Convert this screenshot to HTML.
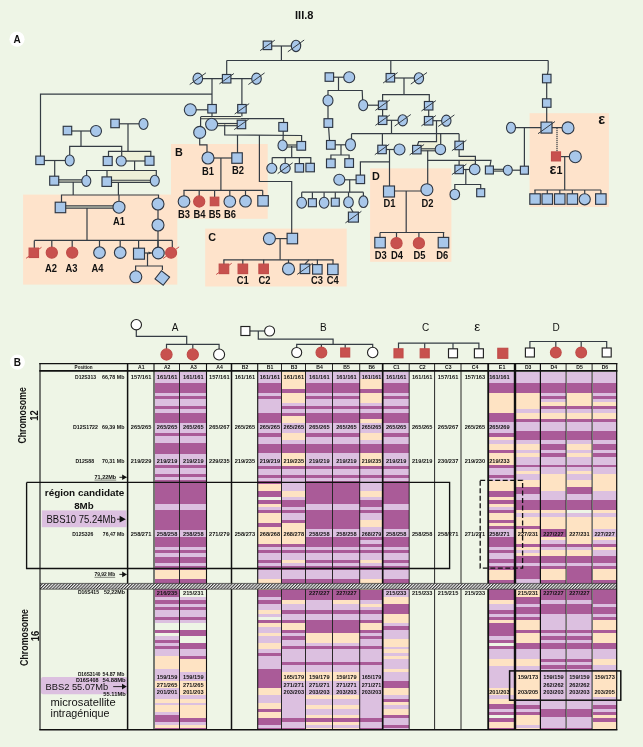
<!DOCTYPE html>
<html><head><meta charset="utf-8"><title>III.8</title>
<style>html,body{margin:0;padding:0;background:#eef5e6}svg{display:block;will-change:transform}</style></head>
<body>
<svg width="643" height="747" viewBox="0 0 643 747" font-family="'Liberation Sans', sans-serif" fill="#111">
<rect width="643" height="747" fill="#eef5e6"/>
<rect x="23.1" y="194.6" width="154.2" height="90.0" fill="#fee3cb"/>
<rect x="171.0" y="144.0" width="96.7" height="74.8" fill="#fee3cb"/>
<rect x="205.2" y="228.6" width="141.5" height="57.9" fill="#fee3cb"/>
<rect x="370.1" y="168.4" width="81.3" height="93.4" fill="#fee3cb"/>
<rect x="529.6" y="113.2" width="79.3" height="93.8" fill="#fee3cb"/>
<rect x="283.0" y="135.5" width="18.6" height="10.0" fill="#eef0d8"/>
<rect x="121.7" y="151.3" width="29.1" height="9.7" fill="#eef0d8"/>
<rect x="107.0" y="170.5" width="49.3" height="10.5" fill="#eef0d8"/>
<rect x="436.5" y="133.6" width="4.5" height="9.4" fill="#eef0d8"/>
<rect x="420.0" y="141.7" width="21.0" height="7.3" fill="#eef0d8"/>
<rect x="459.4" y="156.4" width="16.0" height="7.6" fill="#eef0d8"/>
<text x="304.2" y="19.0" font-size="11" font-weight="bold" text-anchor="middle" >III.8</text>
<circle cx="17" cy="39.2" r="7.6" fill="#fff"/>
<text x="17.0" y="43.0" font-size="10" font-weight="bold" text-anchor="middle" >A</text>
<circle cx="17.4" cy="362.1" r="7.6" fill="#fff"/>
<text x="17.4" y="366.0" font-size="10" font-weight="bold" text-anchor="middle" >B</text>
<line x1="267.5" y1="46.0" x2="296.0" y2="46.0" stroke="#353c44" stroke-width="1.2"/>
<polyline points="281.4,46.0 281.4,60.5" fill="none" stroke="#353c44" stroke-width="1.2"/>
<line x1="226.7" y1="60.5" x2="548.2" y2="60.5" stroke="#353c44" stroke-width="1.2"/>
<polyline points="226.7,60.5 226.7,78.7" fill="none" stroke="#353c44" stroke-width="1.2"/>
<line x1="197.8" y1="78.7" x2="256.5" y2="78.7" stroke="#353c44" stroke-width="1.2"/>
<polyline points="212.0,78.7 212.0,108.8" fill="none" stroke="#353c44" stroke-width="1.2"/>
<polyline points="241.9,78.7 241.9,108.8" fill="none" stroke="#353c44" stroke-width="1.2"/>
<polyline points="212.0,94.1 40.5,94.1 40.5,160.3" fill="none" stroke="#353c44" stroke-width="1.2"/>
<line x1="190.3" y1="109.8" x2="212.0" y2="109.8" stroke="#353c44" stroke-width="1.2"/>
<polyline points="212.0,108.8 212.0,116.5" fill="none" stroke="#353c44" stroke-width="1.2"/>
<polyline points="241.9,108.8 241.9,116.5" fill="none" stroke="#353c44" stroke-width="1.2"/>
<rect x="200.6" y="116.5" width="40.3" height="2.2" fill="#eef0d8"/>
<line x1="200.6" y1="116.5" x2="240.9" y2="116.5" stroke="#353c44" stroke-width="1.15"/>
<line x1="200.6" y1="118.7" x2="240.9" y2="118.7" stroke="#353c44" stroke-width="1.15"/>
<polyline points="200.6,117.0 200.6,127.0" fill="none" stroke="#353c44" stroke-width="1.2"/>
<polyline points="240.9,118.7 283.6,118.7 283.6,122.0" fill="none" stroke="#353c44" stroke-width="1.2"/>
<rect x="211.6" y="123.5" width="29.8" height="2.2" fill="#eef0d8"/>
<line x1="211.6" y1="123.5" x2="241.4" y2="123.5" stroke="#353c44" stroke-width="1.15"/>
<line x1="211.6" y1="125.7" x2="241.4" y2="125.7" stroke="#353c44" stroke-width="1.15"/>
<polyline points="224.7,124.4 224.7,135.0 301.6,135.5 301.6,141.0" fill="none" stroke="#353c44" stroke-width="1.2"/>
<polyline points="199.7,138.0 199.7,144.8 207.0,144.8 207.0,152.0" fill="none" stroke="#353c44" stroke-width="1.2"/>
<polyline points="237.5,135.0 237.5,153.0" fill="none" stroke="#353c44" stroke-width="1.2"/>
<line x1="208.0" y1="158.0" x2="237.0" y2="158.0" stroke="#353c44" stroke-width="1.2"/>
<polyline points="220.9,158.0 220.9,190.3" fill="none" stroke="#353c44" stroke-width="1.2"/>
<line x1="183.5" y1="190.3" x2="262.7" y2="190.3" stroke="#353c44" stroke-width="1.2"/>
<polyline points="184.0,190.3 184.0,197.0" fill="none" stroke="#353c44" stroke-width="1.2"/>
<polyline points="199.2,190.3 199.2,197.0" fill="none" stroke="#353c44" stroke-width="1.2"/>
<polyline points="214.6,190.3 214.6,197.0" fill="none" stroke="#353c44" stroke-width="1.2"/>
<polyline points="229.8,190.3 229.8,197.0" fill="none" stroke="#353c44" stroke-width="1.2"/>
<polyline points="245.5,190.3 245.5,197.0" fill="none" stroke="#353c44" stroke-width="1.2"/>
<polyline points="262.7,190.3 262.7,197.0" fill="none" stroke="#353c44" stroke-width="1.2"/>
<polyline points="259.4,135.0 259.4,181.5 291.7,181.5 291.7,233.5" fill="none" stroke="#353c44" stroke-width="1.2"/>
<line x1="269.4" y1="238.6" x2="292.3" y2="238.6" stroke="#353c44" stroke-width="1.2"/>
<polyline points="280.1,238.6 280.1,259.8" fill="none" stroke="#353c44" stroke-width="1.2"/>
<line x1="223.4" y1="259.8" x2="333.5" y2="259.8" stroke="#353c44" stroke-width="1.2"/>
<polyline points="223.9,259.8 223.9,265.0" fill="none" stroke="#353c44" stroke-width="1.2"/>
<polyline points="242.8,259.8 242.8,265.0" fill="none" stroke="#353c44" stroke-width="1.2"/>
<polyline points="263.7,259.8 263.7,265.0" fill="none" stroke="#353c44" stroke-width="1.2"/>
<polyline points="288.5,259.8 288.5,265.0" fill="none" stroke="#353c44" stroke-width="1.2"/>
<polyline points="317.4,259.8 317.4,265.0" fill="none" stroke="#353c44" stroke-width="1.2"/>
<polyline points="333.0,259.8 333.0,265.0" fill="none" stroke="#353c44" stroke-width="1.2"/>
<polyline points="309.0,259.8 305.0,264.0" fill="none" stroke="#353c44" stroke-width="1.2"/>
<polyline points="283.2,126.8 283.2,135.5 283.0,141.0" fill="none" stroke="#353c44" stroke-width="1.2"/>
<rect x="282.6" y="145.0" width="18.7" height="2.0" fill="#eef0d8"/>
<line x1="282.6" y1="145.0" x2="301.3" y2="145.0" stroke="#353c44" stroke-width="1.15"/>
<line x1="282.6" y1="147.0" x2="301.3" y2="147.0" stroke="#353c44" stroke-width="1.15"/>
<polyline points="291.7,146.0 291.7,157.6" fill="none" stroke="#353c44" stroke-width="1.2"/>
<line x1="272.2" y1="157.6" x2="311.2" y2="157.6" stroke="#353c44" stroke-width="1.2"/>
<polyline points="272.2,157.6 272.2,164.0" fill="none" stroke="#353c44" stroke-width="1.2"/>
<polyline points="285.2,157.6 285.2,164.0" fill="none" stroke="#353c44" stroke-width="1.2"/>
<polyline points="299.4,157.6 299.4,164.0" fill="none" stroke="#353c44" stroke-width="1.2"/>
<polyline points="310.8,157.6 310.8,164.0" fill="none" stroke="#353c44" stroke-width="1.2"/>
<line x1="67.4" y1="131.0" x2="96.0" y2="131.0" stroke="#353c44" stroke-width="1.2"/>
<polyline points="81.0,131.0 81.0,146.4" fill="none" stroke="#353c44" stroke-width="1.2"/>
<polyline points="69.7,156.0 69.7,146.4 121.7,146.4 121.7,156.0" fill="none" stroke="#353c44" stroke-width="1.2"/>
<line x1="115.0" y1="123.8" x2="143.5" y2="123.8" stroke="#353c44" stroke-width="1.2"/>
<polyline points="128.0,124.0 128.0,151.3" fill="none" stroke="#353c44" stroke-width="1.2"/>
<polyline points="108.5,157.0 108.5,151.3 150.8,151.3 150.8,157.0" fill="none" stroke="#353c44" stroke-width="1.2"/>
<line x1="40.0" y1="160.5" x2="69.7" y2="160.5" stroke="#353c44" stroke-width="1.2"/>
<polyline points="54.7,160.5 54.7,177.0" fill="none" stroke="#353c44" stroke-width="1.2"/>
<line x1="121.2" y1="161.0" x2="149.5" y2="161.0" stroke="#353c44" stroke-width="1.2"/>
<polyline points="134.6,161.0 134.6,170.5" fill="none" stroke="#353c44" stroke-width="1.2"/>
<polyline points="86.6,176.0 86.6,170.5 156.3,170.5 156.3,176.0" fill="none" stroke="#353c44" stroke-width="1.2"/>
<polyline points="107.0,170.5 107.0,177.0" fill="none" stroke="#353c44" stroke-width="1.2"/>
<rect x="54.2" y="179.9" width="32.1" height="2.2" fill="#eef0d8"/>
<line x1="54.2" y1="179.9" x2="86.3" y2="179.9" stroke="#353c44" stroke-width="1.15"/>
<line x1="54.2" y1="182.1" x2="86.3" y2="182.1" stroke="#353c44" stroke-width="1.15"/>
<polyline points="73.2,182.0 73.2,195.0" fill="none" stroke="#353c44" stroke-width="1.2"/>
<rect x="106.7" y="180.2" width="48.1" height="2.2" fill="#eef0d8"/>
<line x1="106.7" y1="180.2" x2="154.8" y2="180.2" stroke="#353c44" stroke-width="1.15"/>
<line x1="106.7" y1="182.4" x2="154.8" y2="182.4" stroke="#353c44" stroke-width="1.15"/>
<polyline points="118.4,182.5 118.4,195.0" fill="none" stroke="#353c44" stroke-width="1.2"/>
<polyline points="61.5,202.0 61.5,195.0 158.5,195.0 158.5,199.0" fill="none" stroke="#353c44" stroke-width="1.2"/>
<polyline points="119.0,195.0 119.0,201.0" fill="none" stroke="#353c44" stroke-width="1.2"/>
<rect x="60.5" y="205.9" width="58.5" height="2.2" fill="#eef0d8"/>
<line x1="60.5" y1="205.9" x2="119.0" y2="205.9" stroke="#353c44" stroke-width="1.15"/>
<line x1="60.5" y1="208.1" x2="119.0" y2="208.1" stroke="#353c44" stroke-width="1.15"/>
<polyline points="87.0,208.0 87.0,240.4" fill="none" stroke="#353c44" stroke-width="1.2"/>
<line x1="34.3" y1="240.4" x2="172.3" y2="240.4" stroke="#353c44" stroke-width="1.2"/>
<polyline points="34.3,240.4 34.3,248.0" fill="none" stroke="#353c44" stroke-width="1.2"/>
<polyline points="51.8,240.4 51.8,248.0" fill="none" stroke="#353c44" stroke-width="1.2"/>
<polyline points="72.2,240.4 72.2,248.0" fill="none" stroke="#353c44" stroke-width="1.2"/>
<polyline points="99.5,240.4 99.5,248.0" fill="none" stroke="#353c44" stroke-width="1.2"/>
<polyline points="120.2,240.4 120.2,248.0" fill="none" stroke="#353c44" stroke-width="1.2"/>
<polyline points="138.6,240.4 138.6,248.0" fill="none" stroke="#353c44" stroke-width="1.2"/>
<polyline points="158.0,240.4 158.0,248.0" fill="none" stroke="#353c44" stroke-width="1.2"/>
<polyline points="172.3,240.4 172.3,248.0" fill="none" stroke="#353c44" stroke-width="1.2"/>
<polyline points="158.0,204.0 158.0,252.7" fill="none" stroke="#353c44" stroke-width="1.2"/>
<line x1="138.6" y1="253.0" x2="158.0" y2="253.0" stroke="#353c44" stroke-width="1.2"/>
<polyline points="147.5,253.0 147.5,266.0" fill="none" stroke="#353c44" stroke-width="1.2"/>
<polyline points="135.6,271.0 135.6,266.0 162.4,266.0 162.4,270.0" fill="none" stroke="#353c44" stroke-width="1.2"/>
<polygon points="148.5,251.5 151.8,253 148.5,254.5" fill="#353c44"/>
<polyline points="390.8,60.5 390.8,74.0" fill="none" stroke="#353c44" stroke-width="1.2"/>
<line x1="390.3" y1="78.0" x2="418.9" y2="78.0" stroke="#353c44" stroke-width="1.2"/>
<polyline points="404.0,78.0 404.0,94.7" fill="none" stroke="#353c44" stroke-width="1.2"/>
<polyline points="382.6,101.0 382.6,94.7 429.3,94.7 429.3,101.0" fill="none" stroke="#353c44" stroke-width="1.2"/>
<line x1="329.3" y1="77.2" x2="349.2" y2="77.2" stroke="#353c44" stroke-width="1.2"/>
<polyline points="338.5,77.2 338.5,90.5" fill="none" stroke="#353c44" stroke-width="1.2"/>
<polyline points="328.0,95.0 328.0,90.5 362.2,90.5 362.6,100.0" fill="none" stroke="#353c44" stroke-width="1.2"/>
<line x1="363.2" y1="105.2" x2="382.6" y2="105.2" stroke="#353c44" stroke-width="1.2"/>
<polyline points="382.6,105.2 382.6,120.0" fill="none" stroke="#353c44" stroke-width="1.2"/>
<line x1="382.6" y1="120.3" x2="402.7" y2="120.3" stroke="#353c44" stroke-width="1.2"/>
<polyline points="428.7,105.7 428.7,120.7" fill="none" stroke="#353c44" stroke-width="1.2"/>
<line x1="428.7" y1="120.7" x2="446.3" y2="120.7" stroke="#353c44" stroke-width="1.2"/>
<polyline points="391.5,120.3 391.5,133.7" fill="none" stroke="#353c44" stroke-width="1.2"/>
<line x1="351.5" y1="133.7" x2="459.1" y2="133.7" stroke="#353c44" stroke-width="1.2"/>
<polyline points="351.5,133.7 351.5,139.0" fill="none" stroke="#353c44" stroke-width="1.2"/>
<polyline points="382.4,133.7 382.4,145.0" fill="none" stroke="#353c44" stroke-width="1.2"/>
<polyline points="440.7,133.7 440.7,144.0" fill="none" stroke="#353c44" stroke-width="1.2"/>
<polyline points="459.1,133.7 459.1,141.0" fill="none" stroke="#353c44" stroke-width="1.2"/>
<polyline points="436.5,120.7 436.5,141.7 418.7,141.7 417.5,145.0" fill="none" stroke="#353c44" stroke-width="1.2"/>
<polyline points="328.0,105.0 328.0,119.0 329.5,140.0" fill="none" stroke="#353c44" stroke-width="1.2"/>
<polyline points="330.9,149.0 330.9,140.0" fill="none" stroke="#353c44" stroke-width="1.2"/>
<line x1="330.9" y1="144.8" x2="350.5" y2="144.8" stroke="#353c44" stroke-width="1.2"/>
<polyline points="341.0,145.0 341.0,155.0" fill="none" stroke="#353c44" stroke-width="1.2"/>
<polyline points="330.9,159.0 330.9,155.0 349.1,155.0 349.1,159.0" fill="none" stroke="#353c44" stroke-width="1.2"/>
<line x1="382.0" y1="149.5" x2="399.5" y2="149.5" stroke="#353c44" stroke-width="1.2"/>
<polyline points="389.5,149.5 389.5,186.0" fill="none" stroke="#353c44" stroke-width="1.2"/>
<polyline points="389.5,161.8 360.4,161.8 360.4,175.0" fill="none" stroke="#353c44" stroke-width="1.2"/>
<line x1="339.3" y1="179.8" x2="360.4" y2="179.8" stroke="#353c44" stroke-width="1.2"/>
<polyline points="349.7,179.8 349.7,192.2" fill="none" stroke="#353c44" stroke-width="1.2"/>
<line x1="301.7" y1="192.2" x2="363.4" y2="192.2" stroke="#353c44" stroke-width="1.2"/>
<polyline points="301.7,192.2 301.7,198.0" fill="none" stroke="#353c44" stroke-width="1.2"/>
<polyline points="312.4,192.2 312.4,198.0" fill="none" stroke="#353c44" stroke-width="1.2"/>
<polyline points="324.1,192.2 324.1,198.0" fill="none" stroke="#353c44" stroke-width="1.2"/>
<polyline points="335.3,192.2 335.3,198.0" fill="none" stroke="#353c44" stroke-width="1.2"/>
<polyline points="348.5,192.2 348.5,198.0" fill="none" stroke="#353c44" stroke-width="1.2"/>
<polyline points="363.4,192.2 363.4,198.0" fill="none" stroke="#353c44" stroke-width="1.2"/>
<polyline points="350.0,207.0 353.0,212.0" fill="none" stroke="#353c44" stroke-width="1.2"/>
<rect x="416.8" y="148.8" width="23.6" height="2.0" fill="#eef0d8"/>
<line x1="416.8" y1="148.8" x2="440.4" y2="148.8" stroke="#353c44" stroke-width="1.15"/>
<line x1="416.8" y1="150.8" x2="440.4" y2="150.8" stroke="#353c44" stroke-width="1.15"/>
<polyline points="427.7,150.5 427.7,184.0" fill="none" stroke="#353c44" stroke-width="1.2"/>
<polyline points="427.7,160.3 491.0,160.3 490.0,166.0" fill="none" stroke="#353c44" stroke-width="1.2"/>
<polyline points="459.1,160.3 459.1,165.0" fill="none" stroke="#353c44" stroke-width="1.2"/>
<line x1="389.0" y1="191.0" x2="426.9" y2="191.0" stroke="#353c44" stroke-width="1.2"/>
<polyline points="406.2,191.0 406.2,232.5" fill="none" stroke="#353c44" stroke-width="1.2"/>
<line x1="380.0" y1="232.5" x2="444.3" y2="232.5" stroke="#353c44" stroke-width="1.2"/>
<polyline points="380.0,232.5 380.0,238.0" fill="none" stroke="#353c44" stroke-width="1.2"/>
<polyline points="396.5,232.5 396.5,238.0" fill="none" stroke="#353c44" stroke-width="1.2"/>
<polyline points="418.9,232.5 418.9,238.0" fill="none" stroke="#353c44" stroke-width="1.2"/>
<polyline points="443.5,232.5 443.5,238.0" fill="none" stroke="#353c44" stroke-width="1.2"/>
<polyline points="459.1,150.0 459.1,156.4 475.4,156.4 475.4,164.0" fill="none" stroke="#353c44" stroke-width="1.2"/>
<line x1="459.1" y1="169.5" x2="474.7" y2="169.5" stroke="#353c44" stroke-width="1.2"/>
<polyline points="465.8,169.5 465.8,184.5" fill="none" stroke="#353c44" stroke-width="1.2"/>
<polyline points="454.8,189.5 454.8,184.5 480.7,184.5 480.7,188.5" fill="none" stroke="#353c44" stroke-width="1.2"/>
<rect x="489.4" y="169.3" width="18.4" height="1.8" fill="#eef0d8"/>
<line x1="489.4" y1="169.3" x2="507.8" y2="169.3" stroke="#353c44" stroke-width="1.15"/>
<line x1="489.4" y1="171.1" x2="507.8" y2="171.1" stroke="#353c44" stroke-width="1.15"/>
<line x1="507.8" y1="170.2" x2="524.4" y2="170.2" stroke="#353c44" stroke-width="1.2"/>
<polyline points="548.2,60.5 548.2,70.0 546.7,78.6 546.7,127.6" fill="none" stroke="#353c44" stroke-width="1.2"/>
<line x1="511.0" y1="127.7" x2="568.0" y2="127.7" stroke="#353c44" stroke-width="1.2"/>
<polyline points="524.4,127.7 524.4,166.0" fill="none" stroke="#353c44" stroke-width="1.2"/>
<line x1="557" y1="128" x2="557" y2="152" stroke="#353c44" stroke-width="1.2" stroke-dasharray="1.2,0.8"/>
<line x1="556.0" y1="156.6" x2="575.3" y2="156.6" stroke="#353c44" stroke-width="1.2"/>
<polyline points="564.7,156.6 564.7,190.0" fill="none" stroke="#353c44" stroke-width="1.2"/>
<line x1="534.3" y1="190.0" x2="600.9" y2="190.0" stroke="#353c44" stroke-width="1.2"/>
<polyline points="535.0,190.0 535.0,194.0" fill="none" stroke="#353c44" stroke-width="1.2"/>
<polyline points="547.3,190.0 547.3,194.0" fill="none" stroke="#353c44" stroke-width="1.2"/>
<polyline points="559.8,190.0 559.8,194.0" fill="none" stroke="#353c44" stroke-width="1.2"/>
<polyline points="572.4,190.0 572.4,194.0" fill="none" stroke="#353c44" stroke-width="1.2"/>
<polyline points="584.7,190.0 584.7,194.0" fill="none" stroke="#353c44" stroke-width="1.2"/>
<polyline points="600.9,190.0 600.9,194.0" fill="none" stroke="#353c44" stroke-width="1.2"/>
<rect x="263.2" y="41.1" width="8.5" height="8.5" fill="#a8c7ea" stroke="#2e3642" stroke-width="1.15"/>
<line x1="260.2" y1="50.6" x2="274.8" y2="40.2" stroke="#353c44" stroke-width="1"/>
<ellipse cx="296.0" cy="45.9" rx="4.7" ry="5.7" fill="#a8c7ea" stroke="#2e3642" stroke-width="1.1"/>
<line x1="287.8" y1="51.8" x2="304.2" y2="40.0" stroke="#353c44" stroke-width="1"/>
<ellipse cx="197.8" cy="78.7" rx="4.8" ry="5.6" fill="#a8c7ea" stroke="#2e3642" stroke-width="1.1"/>
<line x1="189.7" y1="84.5" x2="205.9" y2="72.9" stroke="#353c44" stroke-width="1"/>
<rect x="222.4" y="74.5" width="8.5" height="8.5" fill="#a8c7ea" stroke="#2e3642" stroke-width="1.15"/>
<line x1="219.4" y1="83.9" x2="233.9" y2="73.5" stroke="#353c44" stroke-width="1"/>
<ellipse cx="256.5" cy="78.7" rx="4.8" ry="5.6" fill="#a8c7ea" stroke="#2e3642" stroke-width="1.1"/>
<line x1="248.4" y1="84.5" x2="264.6" y2="72.9" stroke="#353c44" stroke-width="1"/>
<ellipse cx="190.3" cy="109.8" rx="6.0" ry="6.0" fill="#a8c7ea" stroke="#2e3642" stroke-width="1.1"/>
<rect x="207.8" y="104.5" width="8.5" height="8.5" fill="#a8c7ea" stroke="#2e3642" stroke-width="1.15"/>
<rect x="237.7" y="104.5" width="8.5" height="8.5" fill="#a8c7ea" stroke="#2e3642" stroke-width="1.15"/>
<line x1="234.7" y1="114.0" x2="249.2" y2="103.6" stroke="#353c44" stroke-width="1"/>
<ellipse cx="211.6" cy="124.3" rx="6.0" ry="6.0" fill="#a8c7ea" stroke="#2e3642" stroke-width="1.1"/>
<rect x="237.2" y="120.2" width="8.5" height="8.5" fill="#a8c7ea" stroke="#2e3642" stroke-width="1.15"/>
<line x1="234.2" y1="129.6" x2="248.7" y2="119.2" stroke="#353c44" stroke-width="1"/>
<ellipse cx="199.7" cy="132.4" rx="6.0" ry="6.0" fill="#a8c7ea" stroke="#2e3642" stroke-width="1.1"/>
<ellipse cx="208.0" cy="158.0" rx="6.0" ry="6.0" fill="#a8c7ea" stroke="#2e3642" stroke-width="1.1"/>
<rect x="231.8" y="152.8" width="10.5" height="10.5" fill="#a8c7ea" stroke="#2e3642" stroke-width="1.15"/>
<ellipse cx="184.0" cy="201.5" rx="5.8" ry="5.8" fill="#a8c7ea" stroke="#2e3642" stroke-width="1.1"/>
<ellipse cx="199.2" cy="201.5" rx="5.6" ry="5.6" fill="#c8514e" stroke="#c04c49" stroke-width="1.1"/>
<rect x="210.3" y="197.2" width="8.5" height="8.5" fill="#c8514e" stroke="#c04c49" stroke-width="1.15"/>
<ellipse cx="229.8" cy="201.5" rx="5.8" ry="5.8" fill="#a8c7ea" stroke="#2e3642" stroke-width="1.1"/>
<ellipse cx="245.5" cy="201.2" rx="5.8" ry="5.8" fill="#a8c7ea" stroke="#2e3642" stroke-width="1.1"/>
<rect x="257.8" y="195.6" width="10.5" height="10.5" fill="#a8c7ea" stroke="#2e3642" stroke-width="1.15"/>
<ellipse cx="269.4" cy="238.6" rx="6.0" ry="6.0" fill="#a8c7ea" stroke="#2e3642" stroke-width="1.1"/>
<rect x="287.1" y="233.3" width="10.5" height="10.5" fill="#a8c7ea" stroke="#2e3642" stroke-width="1.15"/>
<rect x="219.2" y="264.1" width="9.5" height="9.5" fill="#c8514e" stroke="#c04c49" stroke-width="1.15"/>
<line x1="216.2" y1="274.5" x2="231.7" y2="263.3" stroke="#c8514e" stroke-width="1"/>
<rect x="238.1" y="264.1" width="9.5" height="9.5" fill="#c8514e" stroke="#c04c49" stroke-width="1.15"/>
<rect x="258.9" y="264.1" width="9.5" height="9.5" fill="#c8514e" stroke="#c04c49" stroke-width="1.15"/>
<ellipse cx="288.5" cy="268.9" rx="6.0" ry="6.0" fill="#a8c7ea" stroke="#2e3642" stroke-width="1.1"/>
<rect x="300.2" y="264.1" width="9.5" height="9.5" fill="#a8c7ea" stroke="#2e3642" stroke-width="1.15"/>
<line x1="297.2" y1="274.4" x2="312.8" y2="263.2" stroke="#353c44" stroke-width="1"/>
<rect x="312.6" y="264.6" width="9.5" height="9.5" fill="#a8c7ea" stroke="#2e3642" stroke-width="1.15"/>
<rect x="327.6" y="264.1" width="10.5" height="10.5" fill="#a8c7ea" stroke="#2e3642" stroke-width="1.15"/>
<rect x="278.8" y="122.5" width="8.7" height="8.7" fill="#a8c7ea" stroke="#2e3642" stroke-width="1.15"/>
<ellipse cx="282.6" cy="145.4" rx="4.6" ry="5.4" fill="#a8c7ea" stroke="#2e3642" stroke-width="1.1"/>
<rect x="296.9" y="141.5" width="8.7" height="8.7" fill="#a8c7ea" stroke="#2e3642" stroke-width="1.15"/>
<ellipse cx="271.8" cy="168.3" rx="5.0" ry="5.0" fill="#a8c7ea" stroke="#2e3642" stroke-width="1.1"/>
<ellipse cx="285.2" cy="168.2" rx="5.0" ry="5.0" fill="#a8c7ea" stroke="#2e3642" stroke-width="1.1"/>
<line x1="277.7" y1="173.6" x2="292.7" y2="162.8" stroke="#353c44" stroke-width="1"/>
<rect x="295.1" y="163.6" width="8.5" height="8.5" fill="#a8c7ea" stroke="#2e3642" stroke-width="1.15"/>
<rect x="305.9" y="163.3" width="8.5" height="8.5" fill="#a8c7ea" stroke="#2e3642" stroke-width="1.15"/>
<rect x="63.2" y="126.3" width="8.5" height="8.5" fill="#a8c7ea" stroke="#2e3642" stroke-width="1.15"/>
<ellipse cx="96.0" cy="131.0" rx="5.5" ry="5.5" fill="#a8c7ea" stroke="#2e3642" stroke-width="1.1"/>
<rect x="110.8" y="119.2" width="8.5" height="8.5" fill="#a8c7ea" stroke="#2e3642" stroke-width="1.15"/>
<ellipse cx="143.5" cy="124.0" rx="4.5" ry="5.5" fill="#a8c7ea" stroke="#2e3642" stroke-width="1.1"/>
<rect x="35.8" y="156.1" width="8.5" height="8.5" fill="#a8c7ea" stroke="#2e3642" stroke-width="1.15"/>
<ellipse cx="69.7" cy="160.5" rx="4.5" ry="5.5" fill="#a8c7ea" stroke="#2e3642" stroke-width="1.1"/>
<rect x="103.2" y="156.5" width="9.0" height="9.0" fill="#a8c7ea" stroke="#2e3642" stroke-width="1.15"/>
<ellipse cx="121.2" cy="161.0" rx="5.0" ry="5.0" fill="#a8c7ea" stroke="#2e3642" stroke-width="1.1"/>
<rect x="145.0" y="156.3" width="9.0" height="9.0" fill="#a8c7ea" stroke="#2e3642" stroke-width="1.15"/>
<rect x="49.7" y="176.2" width="9.0" height="9.0" fill="#a8c7ea" stroke="#2e3642" stroke-width="1.15"/>
<ellipse cx="86.3" cy="181.0" rx="4.5" ry="5.5" fill="#a8c7ea" stroke="#2e3642" stroke-width="1.1"/>
<rect x="102.0" y="176.9" width="9.5" height="9.5" fill="#a8c7ea" stroke="#2e3642" stroke-width="1.15"/>
<ellipse cx="154.8" cy="180.7" rx="4.5" ry="5.5" fill="#a8c7ea" stroke="#2e3642" stroke-width="1.1"/>
<rect x="55.2" y="202.2" width="10.5" height="10.5" fill="#a8c7ea" stroke="#2e3642" stroke-width="1.15"/>
<ellipse cx="119.0" cy="207.2" rx="6.0" ry="6.0" fill="#a8c7ea" stroke="#2e3642" stroke-width="1.1"/>
<ellipse cx="158.0" cy="204.0" rx="6.0" ry="6.0" fill="#a8c7ea" stroke="#2e3642" stroke-width="1.1"/>
<ellipse cx="158.0" cy="225.0" rx="6.0" ry="6.0" fill="#a8c7ea" stroke="#2e3642" stroke-width="1.1"/>
<rect x="29.1" y="248.1" width="9.4" height="9.4" fill="#c8514e" stroke="#c04c49" stroke-width="1.15"/>
<line x1="26.1" y1="258.3" x2="41.5" y2="247.3" stroke="#c8514e" stroke-width="1"/>
<ellipse cx="51.8" cy="252.6" rx="5.6" ry="5.6" fill="#c8514e" stroke="#c04c49" stroke-width="1.1"/>
<ellipse cx="72.2" cy="252.6" rx="5.6" ry="5.6" fill="#c8514e" stroke="#c04c49" stroke-width="1.1"/>
<ellipse cx="99.5" cy="252.6" rx="5.8" ry="5.8" fill="#a8c7ea" stroke="#2e3642" stroke-width="1.1"/>
<ellipse cx="120.2" cy="252.6" rx="5.8" ry="5.8" fill="#a8c7ea" stroke="#2e3642" stroke-width="1.1"/>
<rect x="133.5" y="248.2" width="11.0" height="11.0" fill="#a8c7ea" stroke="#2e3642" stroke-width="1.15"/>
<ellipse cx="158.3" cy="253.0" rx="5.9" ry="5.9" fill="#a8c7ea" stroke="#2e3642" stroke-width="1.1"/>
<ellipse cx="171.1" cy="252.7" rx="5.5" ry="5.5" fill="#c8514e" stroke="#c04c49" stroke-width="1.1"/>
<line x1="163.1" y1="258.5" x2="179.1" y2="246.9" stroke="#c8514e" stroke-width="1"/>
<ellipse cx="135.8" cy="276.8" rx="6.0" ry="6.0" fill="#a8c7ea" stroke="#2e3642" stroke-width="1.1"/>
<rect x="157.1" y="272.8" width="10.4" height="10.4" transform="rotate(-52 162.3 278.0)" fill="#a8c7ea" stroke="#2e3642" stroke-width="1.1"/>
<rect x="386.1" y="73.5" width="8.5" height="8.5" fill="#a8c7ea" stroke="#2e3642" stroke-width="1.15"/>
<line x1="383.1" y1="83.0" x2="397.6" y2="72.6" stroke="#353c44" stroke-width="1"/>
<ellipse cx="418.9" cy="78.3" rx="4.7" ry="5.6" fill="#a8c7ea" stroke="#2e3642" stroke-width="1.1"/>
<line x1="410.8" y1="84.1" x2="427.0" y2="72.5" stroke="#353c44" stroke-width="1"/>
<rect x="378.4" y="101.0" width="8.5" height="8.5" fill="#a8c7ea" stroke="#2e3642" stroke-width="1.15"/>
<line x1="375.4" y1="110.4" x2="389.9" y2="100.0" stroke="#353c44" stroke-width="1"/>
<rect x="424.4" y="101.5" width="8.5" height="8.5" fill="#a8c7ea" stroke="#2e3642" stroke-width="1.15"/>
<line x1="421.4" y1="111.0" x2="435.9" y2="100.6" stroke="#353c44" stroke-width="1"/>
<rect x="325.1" y="72.8" width="8.5" height="8.5" fill="#a8c7ea" stroke="#2e3642" stroke-width="1.15"/>
<ellipse cx="349.2" cy="77.3" rx="5.5" ry="5.5" fill="#a8c7ea" stroke="#2e3642" stroke-width="1.1"/>
<ellipse cx="328.0" cy="100.5" rx="5.0" ry="5.5" fill="#a8c7ea" stroke="#2e3642" stroke-width="1.1"/>
<ellipse cx="363.2" cy="105.2" rx="4.5" ry="5.5" fill="#a8c7ea" stroke="#2e3642" stroke-width="1.1"/>
<rect x="378.4" y="116.0" width="8.5" height="8.5" fill="#a8c7ea" stroke="#2e3642" stroke-width="1.15"/>
<line x1="375.4" y1="125.4" x2="389.9" y2="115.0" stroke="#353c44" stroke-width="1"/>
<ellipse cx="402.7" cy="120.3" rx="4.7" ry="5.6" fill="#a8c7ea" stroke="#2e3642" stroke-width="1.1"/>
<line x1="394.6" y1="126.1" x2="410.8" y2="114.5" stroke="#353c44" stroke-width="1"/>
<rect x="424.4" y="116.5" width="8.5" height="8.5" fill="#a8c7ea" stroke="#2e3642" stroke-width="1.15"/>
<line x1="421.4" y1="125.9" x2="435.9" y2="115.5" stroke="#353c44" stroke-width="1"/>
<ellipse cx="446.3" cy="120.7" rx="4.7" ry="5.6" fill="#a8c7ea" stroke="#2e3642" stroke-width="1.1"/>
<line x1="438.2" y1="126.5" x2="454.4" y2="114.9" stroke="#353c44" stroke-width="1"/>
<ellipse cx="350.5" cy="144.7" rx="5.0" ry="6.0" fill="#a8c7ea" stroke="#2e3642" stroke-width="1.1"/>
<rect x="377.8" y="145.2" width="8.5" height="8.5" fill="#a8c7ea" stroke="#2e3642" stroke-width="1.15"/>
<line x1="374.8" y1="154.7" x2="389.2" y2="144.3" stroke="#353c44" stroke-width="1"/>
<ellipse cx="399.5" cy="149.5" rx="5.5" ry="5.5" fill="#a8c7ea" stroke="#2e3642" stroke-width="1.1"/>
<rect x="412.6" y="145.4" width="8.5" height="8.5" fill="#a8c7ea" stroke="#2e3642" stroke-width="1.15"/>
<line x1="409.6" y1="154.9" x2="424.1" y2="144.5" stroke="#353c44" stroke-width="1"/>
<ellipse cx="440.4" cy="149.4" rx="5.2" ry="5.2" fill="#a8c7ea" stroke="#2e3642" stroke-width="1.1"/>
<rect x="454.9" y="141.2" width="8.5" height="8.5" fill="#a8c7ea" stroke="#2e3642" stroke-width="1.15"/>
<line x1="451.9" y1="150.7" x2="466.4" y2="140.3" stroke="#353c44" stroke-width="1"/>
<rect x="324.0" y="118.7" width="8.7" height="8.7" fill="#a8c7ea" stroke="#2e3642" stroke-width="1.15"/>
<rect x="326.5" y="140.5" width="8.7" height="8.7" fill="#a8c7ea" stroke="#2e3642" stroke-width="1.15"/>
<rect x="326.5" y="159.0" width="8.7" height="8.7" fill="#a8c7ea" stroke="#2e3642" stroke-width="1.15"/>
<rect x="344.8" y="158.7" width="8.7" height="8.7" fill="#a8c7ea" stroke="#2e3642" stroke-width="1.15"/>
<rect x="356.1" y="175.1" width="8.5" height="8.5" fill="#a8c7ea" stroke="#2e3642" stroke-width="1.15"/>
<ellipse cx="339.3" cy="179.8" rx="5.5" ry="5.5" fill="#a8c7ea" stroke="#2e3642" stroke-width="1.1"/>
<ellipse cx="301.7" cy="202.7" rx="4.8" ry="5.5" fill="#a8c7ea" stroke="#2e3642" stroke-width="1.1"/>
<rect x="308.4" y="198.7" width="8.0" height="8.0" fill="#a8c7ea" stroke="#2e3642" stroke-width="1.15"/>
<ellipse cx="324.1" cy="202.7" rx="4.8" ry="5.5" fill="#a8c7ea" stroke="#2e3642" stroke-width="1.1"/>
<rect x="331.3" y="198.2" width="8.0" height="8.0" fill="#a8c7ea" stroke="#2e3642" stroke-width="1.15"/>
<ellipse cx="348.5" cy="202.2" rx="4.8" ry="5.5" fill="#a8c7ea" stroke="#2e3642" stroke-width="1.1"/>
<ellipse cx="363.4" cy="201.7" rx="4.5" ry="5.8" fill="#a8c7ea" stroke="#2e3642" stroke-width="1.1"/>
<rect x="348.4" y="212.1" width="10.0" height="10.0" fill="#a8c7ea" stroke="#2e3642" stroke-width="1.15"/>
<line x1="345.4" y1="222.9" x2="361.4" y2="211.3" stroke="#353c44" stroke-width="1"/>
<rect x="383.5" y="186.0" width="11.0" height="11.0" fill="#a8c7ea" stroke="#2e3642" stroke-width="1.15"/>
<ellipse cx="426.9" cy="189.7" rx="6.0" ry="6.0" fill="#a8c7ea" stroke="#2e3642" stroke-width="1.1"/>
<rect x="374.8" y="237.4" width="10.5" height="10.5" fill="#a8c7ea" stroke="#2e3642" stroke-width="1.15"/>
<ellipse cx="396.5" cy="243.2" rx="5.6" ry="5.6" fill="#c8514e" stroke="#c04c49" stroke-width="1.1"/>
<ellipse cx="418.9" cy="243.2" rx="5.6" ry="5.6" fill="#c8514e" stroke="#c04c49" stroke-width="1.1"/>
<rect x="438.2" y="237.4" width="10.5" height="10.5" fill="#a8c7ea" stroke="#2e3642" stroke-width="1.15"/>
<ellipse cx="474.7" cy="169.4" rx="5.3" ry="5.3" fill="#a8c7ea" stroke="#2e3642" stroke-width="1.1"/>
<rect x="454.9" y="165.2" width="8.5" height="8.5" fill="#a8c7ea" stroke="#2e3642" stroke-width="1.15"/>
<line x1="451.9" y1="174.6" x2="466.4" y2="164.2" stroke="#353c44" stroke-width="1"/>
<ellipse cx="454.8" cy="194.4" rx="4.8" ry="5.2" fill="#a8c7ea" stroke="#2e3642" stroke-width="1.1"/>
<rect x="476.7" y="188.7" width="8.0" height="8.0" fill="#a8c7ea" stroke="#2e3642" stroke-width="1.15"/>
<rect x="485.4" y="166.0" width="8.0" height="8.0" fill="#a8c7ea" stroke="#2e3642" stroke-width="1.15"/>
<ellipse cx="507.8" cy="170.2" rx="4.5" ry="5.0" fill="#a8c7ea" stroke="#2e3642" stroke-width="1.1"/>
<rect x="520.4" y="166.2" width="8.0" height="8.0" fill="#a8c7ea" stroke="#2e3642" stroke-width="1.15"/>
<rect x="542.5" y="74.3" width="8.5" height="8.5" fill="#a8c7ea" stroke="#2e3642" stroke-width="1.15"/>
<rect x="542.5" y="98.8" width="8.5" height="8.5" fill="#a8c7ea" stroke="#2e3642" stroke-width="1.15"/>
<rect x="541.0" y="122.1" width="11.0" height="11.0" fill="#a8c7ea" stroke="#2e3642" stroke-width="1.15"/>
<line x1="538.0" y1="133.7" x2="555.0" y2="121.5" stroke="#353c44" stroke-width="1"/>
<ellipse cx="511.0" cy="127.7" rx="4.5" ry="5.5" fill="#a8c7ea" stroke="#2e3642" stroke-width="1.1"/>
<ellipse cx="568.0" cy="127.9" rx="6.0" ry="6.0" fill="#a8c7ea" stroke="#2e3642" stroke-width="1.1"/>
<rect x="551.5" y="151.9" width="9.0" height="9.0" fill="#c8514e" stroke="#c04c49" stroke-width="1.15"/>
<ellipse cx="575.3" cy="156.7" rx="6.0" ry="6.0" fill="#a8c7ea" stroke="#2e3642" stroke-width="1.1"/>
<rect x="529.8" y="193.8" width="10.5" height="10.5" fill="#a8c7ea" stroke="#2e3642" stroke-width="1.15"/>
<rect x="542.0" y="193.8" width="10.5" height="10.5" fill="#a8c7ea" stroke="#2e3642" stroke-width="1.15"/>
<rect x="554.5" y="193.8" width="10.5" height="10.5" fill="#a8c7ea" stroke="#2e3642" stroke-width="1.15"/>
<rect x="567.1" y="193.8" width="10.5" height="10.5" fill="#a8c7ea" stroke="#2e3642" stroke-width="1.15"/>
<rect x="595.6" y="193.8" width="10.5" height="10.5" fill="#a8c7ea" stroke="#2e3642" stroke-width="1.15"/>
<ellipse cx="584.7" cy="199.3" rx="5.6" ry="5.6" fill="#a8c7ea" stroke="#2e3642" stroke-width="1.1"/>
<text x="179.0" y="156.0" font-size="10.8" font-weight="bold" text-anchor="middle" >B</text>
<text x="208.0" y="175.3" font-size="10.8" font-weight="bold" text-anchor="middle" textLength="12" lengthAdjust="spacingAndGlyphs" >B1</text>
<text x="238.0" y="174.3" font-size="10.8" font-weight="bold" text-anchor="middle" textLength="12" lengthAdjust="spacingAndGlyphs" >B2</text>
<text x="184.0" y="218.0" font-size="10.8" font-weight="bold" text-anchor="middle" textLength="12" lengthAdjust="spacingAndGlyphs" >B3</text>
<text x="199.4" y="218.0" font-size="10.8" font-weight="bold" text-anchor="middle" textLength="12" lengthAdjust="spacingAndGlyphs" >B4</text>
<text x="214.8" y="218.0" font-size="10.8" font-weight="bold" text-anchor="middle" textLength="12" lengthAdjust="spacingAndGlyphs" >B5</text>
<text x="230.0" y="218.0" font-size="10.8" font-weight="bold" text-anchor="middle" textLength="12" lengthAdjust="spacingAndGlyphs" >B6</text>
<text x="119.0" y="225.0" font-size="10.8" font-weight="bold" text-anchor="middle" textLength="12" lengthAdjust="spacingAndGlyphs" >A1</text>
<text x="51.0" y="272.0" font-size="10.8" font-weight="bold" text-anchor="middle" textLength="12" lengthAdjust="spacingAndGlyphs" >A2</text>
<text x="71.4" y="272.0" font-size="10.8" font-weight="bold" text-anchor="middle" textLength="12" lengthAdjust="spacingAndGlyphs" >A3</text>
<text x="97.5" y="272.0" font-size="10.8" font-weight="bold" text-anchor="middle" textLength="12" lengthAdjust="spacingAndGlyphs" >A4</text>
<text x="212.2" y="240.5" font-size="10.8" font-weight="bold" text-anchor="middle" >C</text>
<text x="242.8" y="284.0" font-size="10.8" font-weight="bold" text-anchor="middle" textLength="12" lengthAdjust="spacingAndGlyphs" >C1</text>
<text x="264.4" y="284.0" font-size="10.8" font-weight="bold" text-anchor="middle" textLength="12" lengthAdjust="spacingAndGlyphs" >C2</text>
<text x="316.9" y="284.0" font-size="10.8" font-weight="bold" text-anchor="middle" textLength="12" lengthAdjust="spacingAndGlyphs" >C3</text>
<text x="332.8" y="284.0" font-size="10.8" font-weight="bold" text-anchor="middle" textLength="12" lengthAdjust="spacingAndGlyphs" >C4</text>
<text x="375.8" y="180.0" font-size="10.8" font-weight="bold" text-anchor="middle" >D</text>
<text x="389.5" y="206.6" font-size="10.8" font-weight="bold" text-anchor="middle" textLength="12" lengthAdjust="spacingAndGlyphs" >D1</text>
<text x="427.6" y="207.3" font-size="10.8" font-weight="bold" text-anchor="middle" textLength="12" lengthAdjust="spacingAndGlyphs" >D2</text>
<text x="380.8" y="259.0" font-size="10.8" font-weight="bold" text-anchor="middle" textLength="12" lengthAdjust="spacingAndGlyphs" >D3</text>
<text x="397.0" y="259.0" font-size="10.8" font-weight="bold" text-anchor="middle" textLength="12" lengthAdjust="spacingAndGlyphs" >D4</text>
<text x="419.4" y="259.0" font-size="10.8" font-weight="bold" text-anchor="middle" textLength="12" lengthAdjust="spacingAndGlyphs" >D5</text>
<text x="442.3" y="259.0" font-size="10.8" font-weight="bold" text-anchor="middle" textLength="12" lengthAdjust="spacingAndGlyphs" >D6</text>
<text x="601.6" y="123.5" font-size="14.5" font-weight="bold" text-anchor="middle">ε</text>
<text x="556" y="174" font-weight="bold" text-anchor="middle"><tspan font-size="14.5">ε</tspan><tspan font-size="10.8">1</tspan></text>
<polyline points="136.3,329.0 136.3,336.3 186.7,336.3 186.7,344.4" fill="none" stroke="#353c44" stroke-width="1.2"/>
<polyline points="166.5,349.0 166.5,344.4 219.1,344.4 219.1,349.0" fill="none" stroke="#353c44" stroke-width="1.2"/>
<polyline points="192.8,344.4 192.8,349.0" fill="none" stroke="#353c44" stroke-width="1.2"/>
<line x1="245.4" y1="331.0" x2="269.6" y2="331.0" stroke="#353c44" stroke-width="1.2"/>
<polyline points="258.3,331.0 258.3,339.1 333.1,339.1 333.1,344.4" fill="none" stroke="#353c44" stroke-width="1.2"/>
<polyline points="296.7,348.0 296.7,344.4 372.7,344.4 372.7,348.0" fill="none" stroke="#353c44" stroke-width="1.2"/>
<polyline points="321.4,344.4 321.4,348.0" fill="none" stroke="#353c44" stroke-width="1.2"/>
<polyline points="345.2,344.4 345.2,348.0" fill="none" stroke="#353c44" stroke-width="1.2"/>
<polyline points="398.5,349.0 398.5,343.2 478.9,343.2 478.9,349.0" fill="none" stroke="#353c44" stroke-width="1.2"/>
<polyline points="424.7,343.2 424.7,349.0" fill="none" stroke="#353c44" stroke-width="1.2"/>
<polyline points="453.0,343.2 453.0,349.0" fill="none" stroke="#353c44" stroke-width="1.2"/>
<polyline points="529.9,348.0 529.9,341.5 606.7,341.5 606.7,348.0" fill="none" stroke="#353c44" stroke-width="1.2"/>
<polyline points="555.8,341.5 555.8,348.0" fill="none" stroke="#353c44" stroke-width="1.2"/>
<polyline points="581.2,341.5 581.2,348.0" fill="none" stroke="#353c44" stroke-width="1.2"/>
<ellipse cx="136.3" cy="324.7" rx="5.2" ry="5.2" fill="#ffffff" stroke="#222" stroke-width="1.1"/>
<ellipse cx="166.5" cy="354.5" rx="5.6" ry="5.6" fill="#c8514e" stroke="#c04c49" stroke-width="1.1"/>
<ellipse cx="192.8" cy="354.5" rx="5.6" ry="5.6" fill="#c8514e" stroke="#c04c49" stroke-width="1.1"/>
<ellipse cx="219.1" cy="354.5" rx="5.5" ry="5.5" fill="#ffffff" stroke="#222" stroke-width="1.1"/>
<rect x="240.9" y="326.5" width="9.0" height="9.0" fill="#ffffff" stroke="#222" stroke-width="1.15"/>
<ellipse cx="269.6" cy="331.0" rx="5.0" ry="5.0" fill="#ffffff" stroke="#222" stroke-width="1.1"/>
<ellipse cx="296.7" cy="352.5" rx="5.0" ry="5.0" fill="#ffffff" stroke="#222" stroke-width="1.1"/>
<ellipse cx="321.4" cy="352.5" rx="5.4" ry="5.4" fill="#c8514e" stroke="#c04c49" stroke-width="1.1"/>
<rect x="340.7" y="348.0" width="9.0" height="9.0" fill="#c8514e" stroke="#c04c49" stroke-width="1.15"/>
<ellipse cx="372.7" cy="352.5" rx="5.2" ry="5.2" fill="#ffffff" stroke="#222" stroke-width="1.1"/>
<rect x="394.0" y="348.8" width="9.0" height="9.0" fill="#c8514e" stroke="#c04c49" stroke-width="1.15"/>
<rect x="420.2" y="348.8" width="9.0" height="9.0" fill="#c8514e" stroke="#c04c49" stroke-width="1.15"/>
<rect x="448.5" y="348.8" width="9.0" height="9.0" fill="#ffffff" stroke="#222" stroke-width="1.15"/>
<rect x="474.4" y="348.8" width="9.0" height="9.0" fill="#ffffff" stroke="#222" stroke-width="1.15"/>
<rect x="497.8" y="348.3" width="10.0" height="10.0" fill="#c8514e" stroke="#c04c49" stroke-width="1.15"/>
<rect x="525.4" y="348.0" width="9.0" height="9.0" fill="#ffffff" stroke="#222" stroke-width="1.15"/>
<ellipse cx="555.8" cy="352.5" rx="5.4" ry="5.4" fill="#c8514e" stroke="#c04c49" stroke-width="1.1"/>
<ellipse cx="581.2" cy="352.5" rx="5.4" ry="5.4" fill="#c8514e" stroke="#c04c49" stroke-width="1.1"/>
<rect x="602.2" y="348.0" width="9.0" height="9.0" fill="#ffffff" stroke="#222" stroke-width="1.15"/>
<text x="175.0" y="330.8" font-size="10" font-weight="normal" text-anchor="middle" >A</text>
<text x="323.4" y="330.8" font-size="10" font-weight="normal" text-anchor="middle" >B</text>
<text x="425.5" y="330.8" font-size="10" font-weight="normal" text-anchor="middle" >C</text>
<text x="477.3" y="330.8" font-size="13.5" font-weight="normal" text-anchor="middle" >ε</text>
<text x="556.2" y="330.8" font-size="10" font-weight="normal" text-anchor="middle" >D</text>
<g shape-rendering="crispEdges">
<rect x="154.6" y="371.50" width="24.7" height="11.65" fill="#dcc0e0"/>
<rect x="154.6" y="383.10" width="24.7" height="9.75" fill="#aa5b98"/>
<rect x="154.6" y="392.80" width="24.7" height="3.15" fill="#dcc0e0"/>
<rect x="154.6" y="395.90" width="24.7" height="3.15" fill="#aa5b98"/>
<rect x="154.6" y="399.00" width="24.7" height="7.25" fill="#dcc0e0"/>
<rect x="154.6" y="406.20" width="24.7" height="2.65" fill="#aa5b98"/>
<rect x="154.6" y="408.80" width="24.7" height="3.85" fill="#dcc0e0"/>
<rect x="154.6" y="412.60" width="24.7" height="10.35" fill="#aa5b98"/>
<rect x="154.6" y="422.90" width="24.7" height="10.25" fill="#dcc0e0"/>
<rect x="154.6" y="433.10" width="24.7" height="3.15" fill="#aa5b98"/>
<rect x="154.6" y="436.20" width="24.7" height="7.25" fill="#dcc0e0"/>
<rect x="154.6" y="443.40" width="24.7" height="10.35" fill="#aa5b98"/>
<rect x="154.6" y="453.70" width="24.7" height="11.55" fill="#dcc0e0"/>
<rect x="154.6" y="465.20" width="24.7" height="2.65" fill="#aa5b98"/>
<rect x="154.6" y="467.80" width="24.7" height="6.45" fill="#dcc0e0"/>
<rect x="154.6" y="474.20" width="24.7" height="2.65" fill="#aa5b98"/>
<rect x="154.6" y="476.80" width="24.7" height="2.85" fill="#dcc0e0"/>
<rect x="154.6" y="479.60" width="24.7" height="3.45" fill="#aa5b98"/>
<rect x="154.6" y="483.00" width="24.7" height="21.05" fill="#aa5b98"/>
<rect x="154.6" y="504.00" width="24.7" height="6.25" fill="#dcc0e0"/>
<rect x="154.6" y="510.20" width="24.7" height="19.65" fill="#aa5b98"/>
<rect x="154.6" y="529.80" width="24.7" height="7.05" fill="#dcc0e0"/>
<rect x="154.6" y="536.80" width="24.7" height="10.05" fill="#aa5b98"/>
<rect x="154.6" y="546.80" width="24.7" height="3.05" fill="#dcc0e0"/>
<rect x="154.6" y="549.80" width="24.7" height="3.15" fill="#aa5b98"/>
<rect x="154.6" y="552.90" width="24.7" height="3.75" fill="#dcc0e0"/>
<rect x="154.6" y="556.60" width="24.7" height="6.25" fill="#aa5b98"/>
<rect x="154.6" y="562.80" width="24.7" height="3.25" fill="#dcc0e0"/>
<rect x="154.6" y="566.00" width="24.7" height="3.55" fill="#aa5b98"/>
<rect x="154.6" y="569.50" width="24.7" height="9.75" fill="#fee3c3"/>
<rect x="154.6" y="579.20" width="24.7" height="10.85" fill="#aa5b98"/>
<rect x="154.6" y="590.00" width="24.7" height="6.85" fill="#aa5b98"/>
<rect x="154.6" y="596.80" width="24.7" height="3.45" fill="#dcc0e0"/>
<rect x="154.6" y="600.20" width="24.7" height="3.55" fill="#aa5b98"/>
<rect x="154.6" y="603.70" width="24.7" height="3.45" fill="#dcc0e0"/>
<rect x="154.6" y="607.10" width="24.7" height="2.85" fill="#aa5b98"/>
<rect x="154.6" y="609.90" width="24.7" height="7.25" fill="#dcc0e0"/>
<rect x="154.6" y="617.10" width="24.7" height="3.05" fill="#aa5b98"/>
<rect x="154.6" y="620.10" width="24.7" height="2.85" fill="#dcc0e0"/>
<rect x="154.6" y="630.00" width="24.7" height="2.95" fill="#aa5b98"/>
<rect x="154.6" y="636.00" width="24.7" height="3.55" fill="#dcc0e0"/>
<rect x="154.6" y="639.50" width="24.7" height="3.35" fill="#aa5b98"/>
<rect x="154.6" y="642.80" width="24.7" height="3.45" fill="#dcc0e0"/>
<rect x="154.6" y="646.20" width="24.7" height="2.95" fill="#aa5b98"/>
<rect x="154.6" y="649.10" width="24.7" height="6.85" fill="#dcc0e0"/>
<rect x="154.6" y="655.90" width="24.7" height="13.05" fill="#fee3c3"/>
<rect x="154.6" y="668.90" width="24.7" height="11.65" fill="#dcc0e0"/>
<rect x="154.6" y="680.50" width="24.7" height="7.55" fill="#fee3c3"/>
<rect x="154.6" y="688.00" width="24.7" height="10.55" fill="#dcc0e0"/>
<rect x="154.6" y="698.50" width="24.7" height="4.45" fill="#fee3c3"/>
<rect x="154.6" y="702.90" width="24.7" height="1.95" fill="#dcc0e0"/>
<rect x="154.6" y="704.80" width="24.7" height="7.45" fill="#fee3c3"/>
<rect x="154.6" y="712.20" width="24.7" height="3.15" fill="#dcc0e0"/>
<rect x="154.6" y="715.30" width="24.7" height="6.25" fill="#aa5b98"/>
<rect x="154.6" y="721.50" width="24.7" height="3.25" fill="#dcc0e0"/>
<rect x="154.6" y="724.70" width="24.7" height="3.15" fill="#fee3c3"/>
<rect x="154.6" y="727.80" width="24.7" height="2.05" fill="#aa5b98"/>
<rect x="180.1" y="371.50" width="26.2" height="11.65" fill="#dcc0e0"/>
<rect x="180.1" y="383.10" width="26.2" height="9.75" fill="#aa5b98"/>
<rect x="180.1" y="392.80" width="26.2" height="3.15" fill="#dcc0e0"/>
<rect x="180.1" y="395.90" width="26.2" height="3.15" fill="#aa5b98"/>
<rect x="180.1" y="399.00" width="26.2" height="7.25" fill="#dcc0e0"/>
<rect x="180.1" y="406.20" width="26.2" height="2.65" fill="#aa5b98"/>
<rect x="180.1" y="408.80" width="26.2" height="3.85" fill="#dcc0e0"/>
<rect x="180.1" y="412.60" width="26.2" height="10.35" fill="#aa5b98"/>
<rect x="180.1" y="422.90" width="26.2" height="10.25" fill="#dcc0e0"/>
<rect x="180.1" y="433.10" width="26.2" height="3.15" fill="#aa5b98"/>
<rect x="180.1" y="436.20" width="26.2" height="7.25" fill="#dcc0e0"/>
<rect x="180.1" y="443.40" width="26.2" height="10.35" fill="#aa5b98"/>
<rect x="180.1" y="453.70" width="26.2" height="11.55" fill="#dcc0e0"/>
<rect x="180.1" y="465.20" width="26.2" height="2.65" fill="#aa5b98"/>
<rect x="180.1" y="467.80" width="26.2" height="6.45" fill="#dcc0e0"/>
<rect x="180.1" y="474.20" width="26.2" height="2.65" fill="#aa5b98"/>
<rect x="180.1" y="476.80" width="26.2" height="2.85" fill="#dcc0e0"/>
<rect x="180.1" y="479.60" width="26.2" height="3.45" fill="#aa5b98"/>
<rect x="180.1" y="483.00" width="26.2" height="21.05" fill="#aa5b98"/>
<rect x="180.1" y="504.00" width="26.2" height="6.25" fill="#dcc0e0"/>
<rect x="180.1" y="510.20" width="26.2" height="19.65" fill="#aa5b98"/>
<rect x="180.1" y="529.80" width="26.2" height="7.05" fill="#dcc0e0"/>
<rect x="180.1" y="536.80" width="26.2" height="10.05" fill="#aa5b98"/>
<rect x="180.1" y="546.80" width="26.2" height="3.05" fill="#dcc0e0"/>
<rect x="180.1" y="549.80" width="26.2" height="3.15" fill="#aa5b98"/>
<rect x="180.1" y="552.90" width="26.2" height="3.75" fill="#dcc0e0"/>
<rect x="180.1" y="556.60" width="26.2" height="6.25" fill="#aa5b98"/>
<rect x="180.1" y="562.80" width="26.2" height="3.25" fill="#dcc0e0"/>
<rect x="180.1" y="566.00" width="26.2" height="3.55" fill="#aa5b98"/>
<rect x="180.1" y="569.50" width="26.2" height="9.75" fill="#fee3c3"/>
<rect x="180.1" y="579.20" width="26.2" height="10.85" fill="#aa5b98"/>
<rect x="180.1" y="596.80" width="26.2" height="3.45" fill="#dcc0e0"/>
<rect x="180.1" y="600.20" width="26.2" height="3.55" fill="#aa5b98"/>
<rect x="180.1" y="603.70" width="26.2" height="3.45" fill="#dcc0e0"/>
<rect x="180.1" y="607.10" width="26.2" height="2.85" fill="#aa5b98"/>
<rect x="180.1" y="609.90" width="26.2" height="7.25" fill="#dcc0e0"/>
<rect x="180.1" y="617.10" width="26.2" height="3.05" fill="#aa5b98"/>
<rect x="180.1" y="620.10" width="26.2" height="2.85" fill="#dcc0e0"/>
<rect x="180.1" y="630.00" width="26.2" height="6.05" fill="#aa5b98"/>
<rect x="180.1" y="642.80" width="26.2" height="6.35" fill="#aa5b98"/>
<rect x="180.1" y="649.10" width="26.2" height="6.85" fill="#dcc0e0"/>
<rect x="180.1" y="655.90" width="26.2" height="3.35" fill="#aa5b98"/>
<rect x="180.1" y="659.20" width="26.2" height="13.25" fill="#fee3c3"/>
<rect x="180.1" y="672.40" width="26.2" height="8.15" fill="#dcc0e0"/>
<rect x="180.1" y="680.50" width="26.2" height="14.95" fill="#fee3c3"/>
<rect x="180.1" y="695.40" width="26.2" height="3.15" fill="#dcc0e0"/>
<rect x="180.1" y="698.50" width="26.2" height="4.45" fill="#fee3c3"/>
<rect x="180.1" y="702.90" width="26.2" height="1.95" fill="#dcc0e0"/>
<rect x="180.1" y="704.80" width="26.2" height="13.65" fill="#fee3c3"/>
<rect x="180.1" y="718.40" width="26.2" height="3.15" fill="#aa5b98"/>
<rect x="180.1" y="721.50" width="26.2" height="3.25" fill="#dcc0e0"/>
<rect x="180.1" y="724.70" width="26.2" height="3.15" fill="#fee3c3"/>
<rect x="180.1" y="727.80" width="26.2" height="2.05" fill="#aa5b98"/>
<rect x="258.3" y="371.50" width="23.0" height="11.75" fill="#dcc0e0"/>
<rect x="258.3" y="383.20" width="23.0" height="9.55" fill="#aa5b98"/>
<rect x="258.3" y="392.70" width="23.0" height="3.65" fill="#dcc0e0"/>
<rect x="258.3" y="396.30" width="23.0" height="2.75" fill="#aa5b98"/>
<rect x="258.3" y="399.00" width="23.0" height="13.55" fill="#dcc0e0"/>
<rect x="258.3" y="412.50" width="23.0" height="10.15" fill="#aa5b98"/>
<rect x="258.3" y="422.60" width="23.0" height="10.15" fill="#dcc0e0"/>
<rect x="258.3" y="432.70" width="23.0" height="4.15" fill="#aa5b98"/>
<rect x="258.3" y="436.80" width="23.0" height="7.15" fill="#dcc0e0"/>
<rect x="258.3" y="443.90" width="23.0" height="9.55" fill="#aa5b98"/>
<rect x="258.3" y="453.40" width="23.0" height="12.15" fill="#dcc0e0"/>
<rect x="258.3" y="465.50" width="23.0" height="3.05" fill="#aa5b98"/>
<rect x="258.3" y="468.50" width="23.0" height="6.75" fill="#dcc0e0"/>
<rect x="258.3" y="475.20" width="23.0" height="3.05" fill="#aa5b98"/>
<rect x="258.3" y="478.20" width="23.0" height="2.55" fill="#dcc0e0"/>
<rect x="258.3" y="480.70" width="23.0" height="2.85" fill="#aa5b98"/>
<rect x="258.3" y="483.50" width="23.0" height="7.55" fill="#fee3c3"/>
<rect x="258.3" y="491.00" width="23.0" height="5.85" fill="#aa5b98"/>
<rect x="258.3" y="500.30" width="23.0" height="3.65" fill="#aa5b98"/>
<rect x="258.3" y="503.90" width="23.0" height="2.85" fill="#fee3c3"/>
<rect x="258.3" y="506.70" width="23.0" height="3.25" fill="#dcc0e0"/>
<rect x="258.3" y="509.90" width="23.0" height="3.15" fill="#aa5b98"/>
<rect x="258.3" y="513.00" width="23.0" height="9.95" fill="#fee3c3"/>
<rect x="258.3" y="522.90" width="23.0" height="3.75" fill="#aa5b98"/>
<rect x="258.3" y="526.60" width="23.0" height="17.15" fill="#fee3c3"/>
<rect x="258.3" y="543.70" width="23.0" height="3.25" fill="#aa5b98"/>
<rect x="258.3" y="546.90" width="23.0" height="3.05" fill="#dcc0e0"/>
<rect x="258.3" y="549.90" width="23.0" height="2.95" fill="#aa5b98"/>
<rect x="258.3" y="552.80" width="23.0" height="7.15" fill="#dcc0e0"/>
<rect x="258.3" y="559.90" width="23.0" height="3.25" fill="#aa5b98"/>
<rect x="258.3" y="563.10" width="23.0" height="3.05" fill="#dcc0e0"/>
<rect x="258.3" y="566.10" width="23.0" height="3.45" fill="#aa5b98"/>
<rect x="258.3" y="569.50" width="23.0" height="9.85" fill="#dcc0e0"/>
<rect x="258.3" y="579.30" width="23.0" height="10.75" fill="#fee3c3"/>
<rect x="258.3" y="590.00" width="23.0" height="6.85" fill="#aa5b98"/>
<rect x="258.3" y="596.80" width="23.0" height="3.45" fill="#dcc0e0"/>
<rect x="258.3" y="600.20" width="23.0" height="3.55" fill="#aa5b98"/>
<rect x="258.3" y="603.70" width="23.0" height="6.25" fill="#dcc0e0"/>
<rect x="258.3" y="609.90" width="23.0" height="3.75" fill="#fee3c3"/>
<rect x="258.3" y="613.60" width="23.0" height="3.15" fill="#dcc0e0"/>
<rect x="258.3" y="620.10" width="23.0" height="2.85" fill="#aa5b98"/>
<rect x="258.3" y="622.90" width="23.0" height="3.85" fill="#fee3c3"/>
<rect x="258.3" y="626.70" width="23.0" height="6.25" fill="#dcc0e0"/>
<rect x="258.3" y="632.90" width="23.0" height="3.15" fill="#fee3c3"/>
<rect x="258.3" y="636.00" width="23.0" height="6.85" fill="#dcc0e0"/>
<rect x="258.3" y="642.80" width="23.0" height="6.35" fill="#fee3c3"/>
<rect x="258.3" y="649.10" width="23.0" height="3.75" fill="#dcc0e0"/>
<rect x="258.3" y="652.80" width="23.0" height="3.15" fill="#aa5b98"/>
<rect x="258.3" y="655.90" width="23.0" height="13.05" fill="#dcc0e0"/>
<rect x="258.3" y="668.90" width="23.0" height="19.15" fill="#aa5b98"/>
<rect x="258.3" y="688.00" width="23.0" height="7.45" fill="#fee3c3"/>
<rect x="258.3" y="695.40" width="23.0" height="7.55" fill="#dcc0e0"/>
<rect x="258.3" y="702.90" width="23.0" height="5.65" fill="#fee3c3"/>
<rect x="258.3" y="708.50" width="23.0" height="3.75" fill="#aa5b98"/>
<rect x="258.3" y="712.20" width="23.0" height="6.25" fill="#fee3c3"/>
<rect x="258.3" y="718.40" width="23.0" height="6.35" fill="#aa5b98"/>
<rect x="258.3" y="724.70" width="23.0" height="3.15" fill="#dcc0e0"/>
<rect x="258.3" y="727.80" width="23.0" height="2.05" fill="#aa5b98"/>
<rect x="282.1" y="371.50" width="23.2" height="17.85" fill="#fee3c3"/>
<rect x="282.1" y="389.30" width="23.2" height="3.45" fill="#aa5b98"/>
<rect x="282.1" y="392.70" width="23.2" height="10.15" fill="#fee3c3"/>
<rect x="282.1" y="402.80" width="23.2" height="3.05" fill="#dcc0e0"/>
<rect x="282.1" y="405.80" width="23.2" height="3.15" fill="#aa5b98"/>
<rect x="282.1" y="408.90" width="23.2" height="3.65" fill="#dcc0e0"/>
<rect x="282.1" y="412.50" width="23.2" height="3.05" fill="#aa5b98"/>
<rect x="282.1" y="415.50" width="23.2" height="7.15" fill="#fee3c3"/>
<rect x="282.1" y="422.60" width="23.2" height="10.15" fill="#dcc0e0"/>
<rect x="282.1" y="432.70" width="23.2" height="7.55" fill="#fee3c3"/>
<rect x="282.1" y="440.20" width="23.2" height="3.75" fill="#dcc0e0"/>
<rect x="282.1" y="443.90" width="23.2" height="9.55" fill="#aa5b98"/>
<rect x="282.1" y="453.40" width="23.2" height="12.15" fill="#fee3c3"/>
<rect x="282.1" y="465.50" width="23.2" height="3.05" fill="#aa5b98"/>
<rect x="282.1" y="468.50" width="23.2" height="6.75" fill="#dcc0e0"/>
<rect x="282.1" y="475.20" width="23.2" height="3.05" fill="#aa5b98"/>
<rect x="282.1" y="478.20" width="23.2" height="5.35" fill="#dcc0e0"/>
<rect x="282.1" y="483.50" width="23.2" height="7.55" fill="#dcc0e0"/>
<rect x="282.1" y="491.00" width="23.2" height="5.85" fill="#fee3c3"/>
<rect x="282.1" y="496.80" width="23.2" height="3.55" fill="#dcc0e0"/>
<rect x="282.1" y="500.30" width="23.2" height="6.45" fill="#aa5b98"/>
<rect x="282.1" y="506.70" width="23.2" height="3.25" fill="#dcc0e0"/>
<rect x="282.1" y="509.90" width="23.2" height="3.15" fill="#aa5b98"/>
<rect x="282.1" y="513.00" width="23.2" height="6.85" fill="#dcc0e0"/>
<rect x="282.1" y="519.80" width="23.2" height="3.15" fill="#aa5b98"/>
<rect x="282.1" y="522.90" width="23.2" height="20.85" fill="#fee3c3"/>
<rect x="282.1" y="543.70" width="23.2" height="3.25" fill="#aa5b98"/>
<rect x="282.1" y="546.90" width="23.2" height="3.05" fill="#dcc0e0"/>
<rect x="282.1" y="549.90" width="23.2" height="2.95" fill="#aa5b98"/>
<rect x="282.1" y="552.80" width="23.2" height="7.15" fill="#dcc0e0"/>
<rect x="282.1" y="559.90" width="23.2" height="3.25" fill="#fee3c3"/>
<rect x="282.1" y="563.10" width="23.2" height="3.05" fill="#dcc0e0"/>
<rect x="282.1" y="566.10" width="23.2" height="3.45" fill="#aa5b98"/>
<rect x="282.1" y="569.50" width="23.2" height="9.85" fill="#dcc0e0"/>
<rect x="282.1" y="579.30" width="23.2" height="10.75" fill="#aa5b98"/>
<rect x="282.1" y="590.00" width="23.2" height="10.25" fill="#aa5b98"/>
<rect x="282.1" y="600.20" width="23.2" height="3.55" fill="#fee3c3"/>
<rect x="282.1" y="603.70" width="23.2" height="6.25" fill="#dcc0e0"/>
<rect x="282.1" y="609.90" width="23.2" height="3.75" fill="#aa5b98"/>
<rect x="282.1" y="613.60" width="23.2" height="6.55" fill="#dcc0e0"/>
<rect x="282.1" y="620.10" width="23.2" height="2.85" fill="#aa5b98"/>
<rect x="282.1" y="622.90" width="23.2" height="7.15" fill="#fee3c3"/>
<rect x="282.1" y="630.00" width="23.2" height="2.95" fill="#aa5b98"/>
<rect x="282.1" y="632.90" width="23.2" height="3.15" fill="#dcc0e0"/>
<rect x="282.1" y="636.00" width="23.2" height="3.55" fill="#aa5b98"/>
<rect x="282.1" y="639.50" width="23.2" height="6.75" fill="#dcc0e0"/>
<rect x="282.1" y="646.20" width="23.2" height="2.95" fill="#aa5b98"/>
<rect x="282.1" y="649.10" width="23.2" height="13.05" fill="#dcc0e0"/>
<rect x="282.1" y="662.10" width="23.2" height="3.35" fill="#aa5b98"/>
<rect x="282.1" y="665.40" width="23.2" height="7.05" fill="#dcc0e0"/>
<rect x="282.1" y="672.40" width="23.2" height="8.15" fill="#fee3c3"/>
<rect x="282.1" y="680.50" width="23.2" height="37.95" fill="#dcc0e0"/>
<rect x="282.1" y="718.40" width="23.2" height="3.15" fill="#aa5b98"/>
<rect x="282.1" y="721.50" width="23.2" height="6.35" fill="#dcc0e0"/>
<rect x="282.1" y="727.80" width="23.2" height="2.05" fill="#aa5b98"/>
<rect x="306.1" y="371.50" width="26.2" height="11.75" fill="#dcc0e0"/>
<rect x="306.1" y="383.20" width="26.2" height="9.55" fill="#aa5b98"/>
<rect x="306.1" y="392.70" width="26.2" height="3.65" fill="#dcc0e0"/>
<rect x="306.1" y="396.30" width="26.2" height="2.75" fill="#aa5b98"/>
<rect x="306.1" y="399.00" width="26.2" height="6.85" fill="#dcc0e0"/>
<rect x="306.1" y="405.80" width="26.2" height="3.15" fill="#aa5b98"/>
<rect x="306.1" y="408.90" width="26.2" height="3.65" fill="#dcc0e0"/>
<rect x="306.1" y="412.50" width="26.2" height="10.15" fill="#aa5b98"/>
<rect x="306.1" y="422.60" width="26.2" height="10.15" fill="#dcc0e0"/>
<rect x="306.1" y="432.70" width="26.2" height="4.15" fill="#aa5b98"/>
<rect x="306.1" y="436.80" width="26.2" height="7.15" fill="#dcc0e0"/>
<rect x="306.1" y="443.90" width="26.2" height="9.55" fill="#aa5b98"/>
<rect x="306.1" y="453.40" width="26.2" height="12.15" fill="#dcc0e0"/>
<rect x="306.1" y="465.50" width="26.2" height="3.05" fill="#aa5b98"/>
<rect x="306.1" y="468.50" width="26.2" height="6.75" fill="#dcc0e0"/>
<rect x="306.1" y="475.20" width="26.2" height="3.05" fill="#aa5b98"/>
<rect x="306.1" y="478.20" width="26.2" height="3.15" fill="#dcc0e0"/>
<rect x="306.1" y="481.30" width="26.2" height="2.25" fill="#aa5b98"/>
<rect x="306.1" y="483.50" width="26.2" height="20.45" fill="#aa5b98"/>
<rect x="306.1" y="503.90" width="26.2" height="6.05" fill="#dcc0e0"/>
<rect x="306.1" y="509.90" width="26.2" height="19.25" fill="#aa5b98"/>
<rect x="306.1" y="529.10" width="26.2" height="7.55" fill="#dcc0e0"/>
<rect x="306.1" y="536.60" width="26.2" height="10.35" fill="#aa5b98"/>
<rect x="306.1" y="546.90" width="26.2" height="3.05" fill="#dcc0e0"/>
<rect x="306.1" y="549.90" width="26.2" height="2.95" fill="#aa5b98"/>
<rect x="306.1" y="552.80" width="26.2" height="7.15" fill="#dcc0e0"/>
<rect x="306.1" y="559.90" width="26.2" height="3.25" fill="#aa5b98"/>
<rect x="306.1" y="563.10" width="26.2" height="3.05" fill="#dcc0e0"/>
<rect x="306.1" y="566.10" width="26.2" height="3.45" fill="#aa5b98"/>
<rect x="306.1" y="569.50" width="26.2" height="9.85" fill="#dcc0e0"/>
<rect x="306.1" y="579.30" width="26.2" height="10.75" fill="#aa5b98"/>
<rect x="306.1" y="590.00" width="26.2" height="10.25" fill="#aa5b98"/>
<rect x="306.1" y="600.20" width="26.2" height="9.75" fill="#dcc0e0"/>
<rect x="306.1" y="609.90" width="26.2" height="3.75" fill="#aa5b98"/>
<rect x="306.1" y="613.60" width="26.2" height="6.55" fill="#dcc0e0"/>
<rect x="306.1" y="620.10" width="26.2" height="12.85" fill="#aa5b98"/>
<rect x="306.1" y="632.90" width="26.2" height="9.95" fill="#fee3c3"/>
<rect x="306.1" y="642.80" width="26.2" height="3.45" fill="#dcc0e0"/>
<rect x="306.1" y="646.20" width="26.2" height="2.95" fill="#aa5b98"/>
<rect x="306.1" y="649.10" width="26.2" height="13.05" fill="#dcc0e0"/>
<rect x="306.1" y="662.10" width="26.2" height="3.35" fill="#aa5b98"/>
<rect x="306.1" y="665.40" width="26.2" height="7.05" fill="#dcc0e0"/>
<rect x="306.1" y="672.40" width="26.2" height="8.15" fill="#fee3c3"/>
<rect x="306.1" y="680.50" width="26.2" height="14.95" fill="#dcc0e0"/>
<rect x="306.1" y="695.40" width="26.2" height="3.15" fill="#fee3c3"/>
<rect x="306.1" y="698.50" width="26.2" height="6.35" fill="#dcc0e0"/>
<rect x="306.1" y="704.80" width="26.2" height="3.75" fill="#fee3c3"/>
<rect x="306.1" y="708.50" width="26.2" height="6.85" fill="#dcc0e0"/>
<rect x="306.1" y="715.30" width="26.2" height="3.15" fill="#fee3c3"/>
<rect x="306.1" y="718.40" width="26.2" height="3.15" fill="#aa5b98"/>
<rect x="306.1" y="721.50" width="26.2" height="3.25" fill="#fee3c3"/>
<rect x="306.1" y="724.70" width="26.2" height="3.15" fill="#dcc0e0"/>
<rect x="306.1" y="727.80" width="26.2" height="2.05" fill="#fee3c3"/>
<rect x="333.1" y="371.50" width="26.4" height="11.75" fill="#dcc0e0"/>
<rect x="333.1" y="383.20" width="26.4" height="9.55" fill="#aa5b98"/>
<rect x="333.1" y="392.70" width="26.4" height="3.65" fill="#dcc0e0"/>
<rect x="333.1" y="396.30" width="26.4" height="2.75" fill="#aa5b98"/>
<rect x="333.1" y="399.00" width="26.4" height="6.85" fill="#dcc0e0"/>
<rect x="333.1" y="405.80" width="26.4" height="3.15" fill="#aa5b98"/>
<rect x="333.1" y="408.90" width="26.4" height="3.65" fill="#dcc0e0"/>
<rect x="333.1" y="412.50" width="26.4" height="10.15" fill="#aa5b98"/>
<rect x="333.1" y="422.60" width="26.4" height="10.15" fill="#dcc0e0"/>
<rect x="333.1" y="432.70" width="26.4" height="4.15" fill="#aa5b98"/>
<rect x="333.1" y="436.80" width="26.4" height="7.15" fill="#dcc0e0"/>
<rect x="333.1" y="443.90" width="26.4" height="9.55" fill="#aa5b98"/>
<rect x="333.1" y="453.40" width="26.4" height="12.15" fill="#dcc0e0"/>
<rect x="333.1" y="465.50" width="26.4" height="3.05" fill="#aa5b98"/>
<rect x="333.1" y="468.50" width="26.4" height="6.75" fill="#dcc0e0"/>
<rect x="333.1" y="475.20" width="26.4" height="3.05" fill="#aa5b98"/>
<rect x="333.1" y="478.20" width="26.4" height="3.15" fill="#dcc0e0"/>
<rect x="333.1" y="481.30" width="26.4" height="2.25" fill="#aa5b98"/>
<rect x="333.1" y="483.50" width="26.4" height="20.45" fill="#aa5b98"/>
<rect x="333.1" y="503.90" width="26.4" height="6.05" fill="#dcc0e0"/>
<rect x="333.1" y="509.90" width="26.4" height="19.25" fill="#aa5b98"/>
<rect x="333.1" y="529.10" width="26.4" height="7.55" fill="#dcc0e0"/>
<rect x="333.1" y="536.60" width="26.4" height="10.35" fill="#aa5b98"/>
<rect x="333.1" y="546.90" width="26.4" height="3.05" fill="#dcc0e0"/>
<rect x="333.1" y="549.90" width="26.4" height="2.95" fill="#aa5b98"/>
<rect x="333.1" y="552.80" width="26.4" height="7.15" fill="#dcc0e0"/>
<rect x="333.1" y="559.90" width="26.4" height="3.25" fill="#aa5b98"/>
<rect x="333.1" y="563.10" width="26.4" height="3.05" fill="#dcc0e0"/>
<rect x="333.1" y="566.10" width="26.4" height="3.45" fill="#aa5b98"/>
<rect x="333.1" y="569.50" width="26.4" height="9.85" fill="#dcc0e0"/>
<rect x="333.1" y="579.30" width="26.4" height="10.75" fill="#aa5b98"/>
<rect x="333.1" y="590.00" width="26.4" height="10.45" fill="#aa5b98"/>
<rect x="333.1" y="600.40" width="26.4" height="3.85" fill="#fee3c3"/>
<rect x="333.1" y="604.20" width="26.4" height="6.25" fill="#dcc0e0"/>
<rect x="333.1" y="610.40" width="26.4" height="3.15" fill="#aa5b98"/>
<rect x="333.1" y="613.50" width="26.4" height="6.85" fill="#dcc0e0"/>
<rect x="333.1" y="620.30" width="26.4" height="12.95" fill="#aa5b98"/>
<rect x="333.1" y="633.20" width="26.4" height="9.55" fill="#fee3c3"/>
<rect x="333.1" y="642.70" width="26.4" height="3.15" fill="#dcc0e0"/>
<rect x="333.1" y="645.80" width="26.4" height="3.25" fill="#aa5b98"/>
<rect x="333.1" y="649.00" width="26.4" height="13.15" fill="#dcc0e0"/>
<rect x="333.1" y="662.10" width="26.4" height="3.15" fill="#aa5b98"/>
<rect x="333.1" y="665.20" width="26.4" height="7.25" fill="#dcc0e0"/>
<rect x="333.1" y="672.40" width="26.4" height="8.15" fill="#fee3c3"/>
<rect x="333.1" y="680.50" width="26.4" height="14.95" fill="#dcc0e0"/>
<rect x="333.1" y="695.40" width="26.4" height="3.15" fill="#fee3c3"/>
<rect x="333.1" y="698.50" width="26.4" height="6.25" fill="#dcc0e0"/>
<rect x="333.1" y="704.70" width="26.4" height="3.85" fill="#fee3c3"/>
<rect x="333.1" y="708.50" width="26.4" height="6.25" fill="#dcc0e0"/>
<rect x="333.1" y="714.70" width="26.4" height="3.55" fill="#fee3c3"/>
<rect x="333.1" y="718.20" width="26.4" height="3.35" fill="#aa5b98"/>
<rect x="333.1" y="721.50" width="26.4" height="3.15" fill="#fee3c3"/>
<rect x="333.1" y="724.60" width="26.4" height="3.15" fill="#dcc0e0"/>
<rect x="333.1" y="727.70" width="26.4" height="2.15" fill="#fee3c3"/>
<rect x="360.3" y="371.50" width="22.2" height="7.75" fill="#dcc0e0"/>
<rect x="360.3" y="379.20" width="22.2" height="10.15" fill="#fee3c3"/>
<rect x="360.3" y="389.30" width="22.2" height="3.45" fill="#aa5b98"/>
<rect x="360.3" y="392.70" width="22.2" height="10.15" fill="#fee3c3"/>
<rect x="360.3" y="402.80" width="22.2" height="3.05" fill="#dcc0e0"/>
<rect x="360.3" y="405.80" width="22.2" height="3.15" fill="#aa5b98"/>
<rect x="360.3" y="408.90" width="22.2" height="3.65" fill="#dcc0e0"/>
<rect x="360.3" y="412.50" width="22.2" height="6.15" fill="#aa5b98"/>
<rect x="360.3" y="418.60" width="22.2" height="4.05" fill="#fee3c3"/>
<rect x="360.3" y="422.60" width="22.2" height="10.15" fill="#dcc0e0"/>
<rect x="360.3" y="432.70" width="22.2" height="7.55" fill="#fee3c3"/>
<rect x="360.3" y="440.20" width="22.2" height="3.75" fill="#dcc0e0"/>
<rect x="360.3" y="443.90" width="22.2" height="9.55" fill="#aa5b98"/>
<rect x="360.3" y="453.40" width="22.2" height="12.15" fill="#fee3c3"/>
<rect x="360.3" y="465.50" width="22.2" height="3.05" fill="#aa5b98"/>
<rect x="360.3" y="468.50" width="22.2" height="6.75" fill="#dcc0e0"/>
<rect x="360.3" y="475.20" width="22.2" height="3.05" fill="#aa5b98"/>
<rect x="360.3" y="478.20" width="22.2" height="5.35" fill="#dcc0e0"/>
<rect x="360.3" y="483.50" width="22.2" height="7.55" fill="#dcc0e0"/>
<rect x="360.3" y="491.00" width="22.2" height="5.85" fill="#fee3c3"/>
<rect x="360.3" y="496.80" width="22.2" height="3.55" fill="#dcc0e0"/>
<rect x="360.3" y="500.30" width="22.2" height="6.45" fill="#aa5b98"/>
<rect x="360.3" y="506.70" width="22.2" height="3.25" fill="#dcc0e0"/>
<rect x="360.3" y="509.90" width="22.2" height="3.15" fill="#aa5b98"/>
<rect x="360.3" y="513.00" width="22.2" height="6.85" fill="#dcc0e0"/>
<rect x="360.3" y="519.80" width="22.2" height="6.85" fill="#fee3c3"/>
<rect x="360.3" y="526.60" width="22.2" height="10.05" fill="#dcc0e0"/>
<rect x="360.3" y="536.60" width="22.2" height="3.75" fill="#aa5b98"/>
<rect x="360.3" y="540.30" width="22.2" height="3.45" fill="#dcc0e0"/>
<rect x="360.3" y="543.70" width="22.2" height="3.25" fill="#aa5b98"/>
<rect x="360.3" y="546.90" width="22.2" height="3.05" fill="#dcc0e0"/>
<rect x="360.3" y="549.90" width="22.2" height="2.95" fill="#aa5b98"/>
<rect x="360.3" y="552.80" width="22.2" height="7.15" fill="#dcc0e0"/>
<rect x="360.3" y="559.90" width="22.2" height="3.25" fill="#fee3c3"/>
<rect x="360.3" y="563.10" width="22.2" height="3.05" fill="#dcc0e0"/>
<rect x="360.3" y="566.10" width="22.2" height="3.45" fill="#aa5b98"/>
<rect x="360.3" y="569.50" width="22.2" height="9.85" fill="#dcc0e0"/>
<rect x="360.3" y="579.30" width="22.2" height="10.75" fill="#fee3c3"/>
<rect x="360.3" y="590.00" width="22.2" height="10.45" fill="#aa5b98"/>
<rect x="360.3" y="600.40" width="22.2" height="3.85" fill="#dcc0e0"/>
<rect x="360.3" y="604.20" width="22.2" height="3.15" fill="#fee3c3"/>
<rect x="360.3" y="607.30" width="22.2" height="3.15" fill="#dcc0e0"/>
<rect x="360.3" y="610.40" width="22.2" height="3.15" fill="#aa5b98"/>
<rect x="360.3" y="613.50" width="22.2" height="6.85" fill="#dcc0e0"/>
<rect x="360.3" y="620.30" width="22.2" height="2.95" fill="#aa5b98"/>
<rect x="360.3" y="623.20" width="22.2" height="6.55" fill="#fee3c3"/>
<rect x="360.3" y="629.70" width="22.2" height="3.55" fill="#aa5b98"/>
<rect x="360.3" y="633.20" width="22.2" height="2.95" fill="#dcc0e0"/>
<rect x="360.3" y="636.10" width="22.2" height="3.35" fill="#aa5b98"/>
<rect x="360.3" y="639.40" width="22.2" height="6.45" fill="#dcc0e0"/>
<rect x="360.3" y="645.80" width="22.2" height="3.25" fill="#aa5b98"/>
<rect x="360.3" y="649.00" width="22.2" height="13.15" fill="#dcc0e0"/>
<rect x="360.3" y="662.10" width="22.2" height="3.15" fill="#aa5b98"/>
<rect x="360.3" y="665.20" width="22.2" height="53.05" fill="#dcc0e0"/>
<rect x="360.3" y="718.20" width="22.2" height="3.35" fill="#aa5b98"/>
<rect x="360.3" y="721.50" width="22.2" height="6.25" fill="#dcc0e0"/>
<rect x="360.3" y="727.70" width="22.2" height="2.15" fill="#aa5b98"/>
<rect x="383.3" y="371.50" width="25.7" height="11.75" fill="#dcc0e0"/>
<rect x="383.3" y="383.20" width="25.7" height="9.55" fill="#aa5b98"/>
<rect x="383.3" y="392.70" width="25.7" height="3.65" fill="#dcc0e0"/>
<rect x="383.3" y="396.30" width="25.7" height="2.75" fill="#aa5b98"/>
<rect x="383.3" y="399.00" width="25.7" height="6.85" fill="#dcc0e0"/>
<rect x="383.3" y="405.80" width="25.7" height="3.15" fill="#aa5b98"/>
<rect x="383.3" y="408.90" width="25.7" height="3.65" fill="#dcc0e0"/>
<rect x="383.3" y="412.50" width="25.7" height="10.15" fill="#aa5b98"/>
<rect x="383.3" y="422.60" width="25.7" height="10.15" fill="#dcc0e0"/>
<rect x="383.3" y="432.70" width="25.7" height="4.15" fill="#aa5b98"/>
<rect x="383.3" y="436.80" width="25.7" height="7.15" fill="#dcc0e0"/>
<rect x="383.3" y="443.90" width="25.7" height="9.55" fill="#aa5b98"/>
<rect x="383.3" y="453.40" width="25.7" height="12.15" fill="#dcc0e0"/>
<rect x="383.3" y="465.50" width="25.7" height="3.05" fill="#aa5b98"/>
<rect x="383.3" y="468.50" width="25.7" height="6.75" fill="#dcc0e0"/>
<rect x="383.3" y="475.20" width="25.7" height="3.05" fill="#aa5b98"/>
<rect x="383.3" y="478.20" width="25.7" height="3.15" fill="#dcc0e0"/>
<rect x="383.3" y="481.30" width="25.7" height="2.25" fill="#aa5b98"/>
<rect x="383.3" y="483.50" width="25.7" height="20.45" fill="#aa5b98"/>
<rect x="383.3" y="503.90" width="25.7" height="6.05" fill="#dcc0e0"/>
<rect x="383.3" y="509.90" width="25.7" height="19.25" fill="#aa5b98"/>
<rect x="383.3" y="529.10" width="25.7" height="7.55" fill="#dcc0e0"/>
<rect x="383.3" y="536.60" width="25.7" height="10.35" fill="#aa5b98"/>
<rect x="383.3" y="546.90" width="25.7" height="3.05" fill="#dcc0e0"/>
<rect x="383.3" y="549.90" width="25.7" height="2.95" fill="#aa5b98"/>
<rect x="383.3" y="552.80" width="25.7" height="7.15" fill="#dcc0e0"/>
<rect x="383.3" y="559.90" width="25.7" height="3.25" fill="#aa5b98"/>
<rect x="383.3" y="563.10" width="25.7" height="3.05" fill="#dcc0e0"/>
<rect x="383.3" y="566.10" width="25.7" height="3.45" fill="#aa5b98"/>
<rect x="383.3" y="569.50" width="25.7" height="9.85" fill="#dcc0e0"/>
<rect x="383.3" y="579.30" width="25.7" height="10.75" fill="#aa5b98"/>
<rect x="383.3" y="590.00" width="25.7" height="7.15" fill="#dcc0e0"/>
<rect x="383.3" y="597.10" width="25.7" height="7.15" fill="#fee3c3"/>
<rect x="383.3" y="604.20" width="25.7" height="9.35" fill="#aa5b98"/>
<rect x="383.3" y="613.50" width="25.7" height="9.35" fill="#fee3c3"/>
<rect x="383.3" y="622.80" width="25.7" height="3.45" fill="#dcc0e0"/>
<rect x="383.3" y="626.20" width="25.7" height="3.55" fill="#aa5b98"/>
<rect x="383.3" y="629.70" width="25.7" height="9.75" fill="#dcc0e0"/>
<rect x="383.3" y="639.40" width="25.7" height="7.15" fill="#fee3c3"/>
<rect x="383.3" y="646.50" width="25.7" height="2.55" fill="#dcc0e0"/>
<rect x="383.3" y="649.00" width="25.7" height="3.55" fill="#fee3c3"/>
<rect x="383.3" y="652.50" width="25.7" height="3.15" fill="#dcc0e0"/>
<rect x="383.3" y="655.60" width="25.7" height="3.45" fill="#fee3c3"/>
<rect x="383.3" y="659.00" width="25.7" height="9.75" fill="#dcc0e0"/>
<rect x="383.3" y="668.70" width="25.7" height="3.75" fill="#fee3c3"/>
<rect x="383.3" y="672.40" width="25.7" height="8.15" fill="#dcc0e0"/>
<rect x="383.3" y="680.50" width="25.7" height="7.45" fill="#aa5b98"/>
<rect x="383.3" y="687.90" width="25.7" height="7.55" fill="#fee3c3"/>
<rect x="383.3" y="695.40" width="25.7" height="3.45" fill="#dcc0e0"/>
<rect x="383.3" y="698.80" width="25.7" height="3.45" fill="#aa5b98"/>
<rect x="383.3" y="702.20" width="25.7" height="3.15" fill="#fee3c3"/>
<rect x="383.3" y="705.30" width="25.7" height="3.25" fill="#dcc0e0"/>
<rect x="383.3" y="708.50" width="25.7" height="6.85" fill="#fee3c3"/>
<rect x="383.3" y="715.30" width="25.7" height="2.95" fill="#aa5b98"/>
<rect x="383.3" y="718.20" width="25.7" height="6.45" fill="#dcc0e0"/>
<rect x="383.3" y="724.60" width="25.7" height="3.15" fill="#aa5b98"/>
<rect x="383.3" y="727.70" width="25.7" height="2.15" fill="#dcc0e0"/>
<rect x="488.8" y="371.50" width="26.0" height="11.75" fill="#dcc0e0"/>
<rect x="488.8" y="383.20" width="26.0" height="9.45" fill="#aa5b98"/>
<rect x="488.8" y="392.60" width="26.0" height="20.55" fill="#fee3c3"/>
<rect x="488.8" y="413.10" width="26.0" height="9.35" fill="#aa5b98"/>
<rect x="488.8" y="422.40" width="26.0" height="10.55" fill="#dcc0e0"/>
<rect x="488.8" y="432.90" width="26.0" height="4.35" fill="#aa5b98"/>
<rect x="488.8" y="437.20" width="26.0" height="3.15" fill="#fee3c3"/>
<rect x="488.8" y="440.30" width="26.0" height="3.55" fill="#dcc0e0"/>
<rect x="488.8" y="443.80" width="26.0" height="5.85" fill="#fee3c3"/>
<rect x="488.8" y="449.60" width="26.0" height="3.75" fill="#aa5b98"/>
<rect x="488.8" y="453.30" width="26.0" height="11.65" fill="#fee3c3"/>
<rect x="488.8" y="464.90" width="26.0" height="2.85" fill="#aa5b98"/>
<rect x="488.8" y="467.70" width="26.0" height="7.05" fill="#dcc0e0"/>
<rect x="488.8" y="474.70" width="26.0" height="2.85" fill="#aa5b98"/>
<rect x="488.8" y="477.50" width="26.0" height="3.05" fill="#dcc0e0"/>
<rect x="488.8" y="480.50" width="26.0" height="10.45" fill="#fee3c3"/>
<rect x="488.8" y="490.90" width="26.0" height="5.85" fill="#aa5b98"/>
<rect x="488.8" y="496.70" width="26.0" height="3.75" fill="#fee3c3"/>
<rect x="488.8" y="500.40" width="26.0" height="3.25" fill="#aa5b98"/>
<rect x="488.8" y="503.60" width="26.0" height="3.15" fill="#fee3c3"/>
<rect x="488.8" y="506.70" width="26.0" height="3.15" fill="#dcc0e0"/>
<rect x="488.8" y="509.80" width="26.0" height="3.15" fill="#aa5b98"/>
<rect x="488.8" y="512.90" width="26.0" height="6.85" fill="#fee3c3"/>
<rect x="488.8" y="519.70" width="26.0" height="2.85" fill="#aa5b98"/>
<rect x="488.8" y="522.50" width="26.0" height="3.75" fill="#fee3c3"/>
<rect x="488.8" y="526.20" width="26.0" height="2.55" fill="#aa5b98"/>
<rect x="488.8" y="528.70" width="26.0" height="8.45" fill="#dcc0e0"/>
<rect x="488.8" y="537.10" width="26.0" height="9.45" fill="#aa5b98"/>
<rect x="488.8" y="546.50" width="26.0" height="3.35" fill="#dcc0e0"/>
<rect x="488.8" y="549.80" width="26.0" height="2.95" fill="#aa5b98"/>
<rect x="488.8" y="552.70" width="26.0" height="6.75" fill="#dcc0e0"/>
<rect x="488.8" y="559.40" width="26.0" height="3.35" fill="#aa5b98"/>
<rect x="488.8" y="562.70" width="26.0" height="2.85" fill="#dcc0e0"/>
<rect x="488.8" y="565.50" width="26.0" height="4.05" fill="#aa5b98"/>
<rect x="488.8" y="569.50" width="26.0" height="10.85" fill="#fee3c3"/>
<rect x="488.8" y="580.30" width="26.0" height="9.75" fill="#aa5b98"/>
<rect x="488.8" y="590.00" width="26.0" height="10.25" fill="#aa5b98"/>
<rect x="488.8" y="600.20" width="26.0" height="3.55" fill="#fee3c3"/>
<rect x="488.8" y="603.70" width="26.0" height="6.25" fill="#dcc0e0"/>
<rect x="488.8" y="609.90" width="26.0" height="3.75" fill="#aa5b98"/>
<rect x="488.8" y="613.60" width="26.0" height="3.55" fill="#dcc0e0"/>
<rect x="488.8" y="617.10" width="26.0" height="3.05" fill="#aa5b98"/>
<rect x="488.8" y="620.10" width="26.0" height="2.85" fill="#fee3c3"/>
<rect x="488.8" y="622.90" width="26.0" height="13.15" fill="#aa5b98"/>
<rect x="488.8" y="636.00" width="26.0" height="3.55" fill="#dcc0e0"/>
<rect x="488.8" y="639.50" width="26.0" height="3.35" fill="#aa5b98"/>
<rect x="488.8" y="646.20" width="26.0" height="2.95" fill="#aa5b98"/>
<rect x="488.8" y="649.10" width="26.0" height="10.35" fill="#dcc0e0"/>
<rect x="488.8" y="659.40" width="26.0" height="6.25" fill="#fee3c3"/>
<rect x="488.8" y="665.60" width="26.0" height="22.45" fill="#dcc0e0"/>
<rect x="488.8" y="688.00" width="26.0" height="7.45" fill="#fee3c3"/>
<rect x="488.8" y="695.40" width="26.0" height="3.15" fill="#dcc0e0"/>
<rect x="488.8" y="698.50" width="26.0" height="5.65" fill="#fee3c3"/>
<rect x="488.8" y="704.10" width="26.0" height="4.45" fill="#aa5b98"/>
<rect x="488.8" y="708.50" width="26.0" height="3.15" fill="#dcc0e0"/>
<rect x="488.8" y="711.60" width="26.0" height="3.75" fill="#aa5b98"/>
<rect x="488.8" y="718.40" width="26.0" height="3.15" fill="#aa5b98"/>
<rect x="488.8" y="721.50" width="26.0" height="6.35" fill="#fee3c3"/>
<rect x="488.8" y="727.80" width="26.0" height="2.05" fill="#aa5b98"/>
<rect x="515.6" y="371.50" width="24.6" height="11.75" fill="#dcc0e0"/>
<rect x="515.6" y="383.20" width="24.6" height="9.45" fill="#aa5b98"/>
<rect x="515.6" y="392.60" width="24.6" height="16.85" fill="#fee3c3"/>
<rect x="515.6" y="409.40" width="24.6" height="3.75" fill="#dcc0e0"/>
<rect x="515.6" y="413.10" width="24.6" height="6.15" fill="#fee3c3"/>
<rect x="515.6" y="419.20" width="24.6" height="3.25" fill="#aa5b98"/>
<rect x="515.6" y="422.40" width="24.6" height="8.75" fill="#dcc0e0"/>
<rect x="515.6" y="431.10" width="24.6" height="9.25" fill="#aa5b98"/>
<rect x="515.6" y="440.30" width="24.6" height="3.55" fill="#dcc0e0"/>
<rect x="515.6" y="443.80" width="24.6" height="6.55" fill="#fee3c3"/>
<rect x="515.6" y="450.30" width="24.6" height="3.05" fill="#dcc0e0"/>
<rect x="515.6" y="453.30" width="24.6" height="3.55" fill="#fee3c3"/>
<rect x="515.6" y="456.80" width="24.6" height="8.15" fill="#dcc0e0"/>
<rect x="515.6" y="464.90" width="24.6" height="2.35" fill="#aa5b98"/>
<rect x="515.6" y="467.20" width="24.6" height="3.45" fill="#dcc0e0"/>
<rect x="515.6" y="470.60" width="24.6" height="3.75" fill="#fee3c3"/>
<rect x="515.6" y="474.30" width="24.6" height="5.75" fill="#dcc0e0"/>
<rect x="515.6" y="480.00" width="24.6" height="7.45" fill="#fee3c3"/>
<rect x="515.6" y="487.40" width="24.6" height="6.55" fill="#aa5b98"/>
<rect x="515.6" y="493.90" width="24.6" height="6.55" fill="#dcc0e0"/>
<rect x="515.6" y="500.40" width="24.6" height="9.45" fill="#aa5b98"/>
<rect x="515.6" y="509.80" width="24.6" height="3.15" fill="#fee3c3"/>
<rect x="515.6" y="512.90" width="24.6" height="3.75" fill="#dcc0e0"/>
<rect x="515.6" y="516.60" width="24.6" height="9.65" fill="#fee3c3"/>
<rect x="515.6" y="526.20" width="24.6" height="2.55" fill="#aa5b98"/>
<rect x="515.6" y="528.70" width="24.6" height="14.85" fill="#fee3c3"/>
<rect x="515.6" y="543.50" width="24.6" height="3.35" fill="#aa5b98"/>
<rect x="515.6" y="546.80" width="24.6" height="3.05" fill="#fee3c3"/>
<rect x="515.6" y="549.80" width="24.6" height="2.95" fill="#dcc0e0"/>
<rect x="515.6" y="552.70" width="24.6" height="3.45" fill="#fee3c3"/>
<rect x="515.6" y="556.10" width="24.6" height="6.65" fill="#aa5b98"/>
<rect x="515.6" y="562.70" width="24.6" height="2.85" fill="#dcc0e0"/>
<rect x="515.6" y="565.50" width="24.6" height="13.05" fill="#aa5b98"/>
<rect x="515.6" y="578.50" width="24.6" height="11.55" fill="#dcc0e0"/>
<rect x="515.6" y="590.00" width="24.6" height="6.85" fill="#fee3c3"/>
<rect x="515.6" y="596.80" width="24.6" height="6.95" fill="#aa5b98"/>
<rect x="515.6" y="603.70" width="24.6" height="3.45" fill="#dcc0e0"/>
<rect x="515.6" y="607.10" width="24.6" height="6.55" fill="#aa5b98"/>
<rect x="515.6" y="613.60" width="24.6" height="3.55" fill="#dcc0e0"/>
<rect x="515.6" y="617.10" width="24.6" height="3.05" fill="#aa5b98"/>
<rect x="515.6" y="620.10" width="24.6" height="9.95" fill="#fee3c3"/>
<rect x="515.6" y="630.00" width="24.6" height="2.95" fill="#aa5b98"/>
<rect x="515.6" y="632.90" width="24.6" height="9.95" fill="#fee3c3"/>
<rect x="515.6" y="642.80" width="24.6" height="6.35" fill="#aa5b98"/>
<rect x="515.6" y="649.10" width="24.6" height="10.35" fill="#dcc0e0"/>
<rect x="515.6" y="659.40" width="24.6" height="6.25" fill="#fee3c3"/>
<rect x="515.6" y="665.60" width="24.6" height="5.35" fill="#dcc0e0"/>
<rect x="515.6" y="670.90" width="24.6" height="27.65" fill="#fee3c3"/>
<rect x="515.6" y="698.50" width="24.6" height="6.25" fill="#dcc0e0"/>
<rect x="515.6" y="704.70" width="24.6" height="3.85" fill="#aa5b98"/>
<rect x="515.6" y="708.50" width="24.6" height="3.15" fill="#dcc0e0"/>
<rect x="515.6" y="711.60" width="24.6" height="3.75" fill="#aa5b98"/>
<rect x="515.6" y="715.30" width="24.6" height="9.45" fill="#fee3c3"/>
<rect x="515.6" y="724.70" width="24.6" height="3.15" fill="#dcc0e0"/>
<rect x="515.6" y="727.80" width="24.6" height="2.05" fill="#fee3c3"/>
<rect x="541.0" y="371.50" width="24.9" height="11.75" fill="#dcc0e0"/>
<rect x="541.0" y="383.20" width="24.9" height="9.45" fill="#aa5b98"/>
<rect x="541.0" y="392.60" width="24.9" height="3.35" fill="#dcc0e0"/>
<rect x="541.0" y="395.90" width="24.9" height="2.65" fill="#aa5b98"/>
<rect x="541.0" y="398.50" width="24.9" height="3.95" fill="#dcc0e0"/>
<rect x="541.0" y="402.40" width="24.9" height="3.35" fill="#fee3c3"/>
<rect x="541.0" y="405.70" width="24.9" height="3.75" fill="#aa5b98"/>
<rect x="541.0" y="409.40" width="24.9" height="3.75" fill="#dcc0e0"/>
<rect x="541.0" y="413.10" width="24.9" height="6.15" fill="#fee3c3"/>
<rect x="541.0" y="419.20" width="24.9" height="3.25" fill="#aa5b98"/>
<rect x="541.0" y="422.40" width="24.9" height="8.75" fill="#dcc0e0"/>
<rect x="541.0" y="431.10" width="24.9" height="9.25" fill="#aa5b98"/>
<rect x="541.0" y="440.30" width="24.9" height="3.55" fill="#dcc0e0"/>
<rect x="541.0" y="443.80" width="24.9" height="6.55" fill="#aa5b98"/>
<rect x="541.0" y="450.30" width="24.9" height="3.05" fill="#dcc0e0"/>
<rect x="541.0" y="453.30" width="24.9" height="3.55" fill="#aa5b98"/>
<rect x="541.0" y="456.80" width="24.9" height="8.15" fill="#dcc0e0"/>
<rect x="541.0" y="464.90" width="24.9" height="2.35" fill="#aa5b98"/>
<rect x="541.0" y="467.20" width="24.9" height="7.15" fill="#dcc0e0"/>
<rect x="541.0" y="474.30" width="24.9" height="16.65" fill="#fee3c3"/>
<rect x="541.0" y="490.90" width="24.9" height="9.55" fill="#dcc0e0"/>
<rect x="541.0" y="500.40" width="24.9" height="9.45" fill="#aa5b98"/>
<rect x="541.0" y="509.80" width="24.9" height="3.15" fill="#fee3c3"/>
<rect x="541.0" y="512.90" width="24.9" height="3.75" fill="#dcc0e0"/>
<rect x="541.0" y="516.60" width="24.9" height="12.45" fill="#fee3c3"/>
<rect x="541.0" y="529.00" width="24.9" height="7.75" fill="#aa5b98"/>
<rect x="541.0" y="536.70" width="24.9" height="3.65" fill="#fee3c3"/>
<rect x="541.0" y="540.30" width="24.9" height="3.25" fill="#dcc0e0"/>
<rect x="541.0" y="543.50" width="24.9" height="3.35" fill="#aa5b98"/>
<rect x="541.0" y="546.80" width="24.9" height="3.05" fill="#dcc0e0"/>
<rect x="541.0" y="549.80" width="24.9" height="6.35" fill="#fee3c3"/>
<rect x="541.0" y="556.10" width="24.9" height="6.65" fill="#aa5b98"/>
<rect x="541.0" y="562.70" width="24.9" height="2.85" fill="#dcc0e0"/>
<rect x="541.0" y="565.50" width="24.9" height="3.75" fill="#aa5b98"/>
<rect x="541.0" y="569.20" width="24.9" height="11.15" fill="#fee3c3"/>
<rect x="541.0" y="580.30" width="24.9" height="9.75" fill="#aa5b98"/>
<rect x="541.0" y="590.00" width="24.9" height="10.25" fill="#aa5b98"/>
<rect x="541.0" y="600.20" width="24.9" height="3.55" fill="#dcc0e0"/>
<rect x="541.0" y="603.70" width="24.9" height="9.95" fill="#aa5b98"/>
<rect x="541.0" y="613.60" width="24.9" height="16.45" fill="#dcc0e0"/>
<rect x="541.0" y="630.00" width="24.9" height="2.95" fill="#aa5b98"/>
<rect x="541.0" y="632.90" width="24.9" height="3.15" fill="#dcc0e0"/>
<rect x="541.0" y="636.00" width="24.9" height="3.55" fill="#aa5b98"/>
<rect x="541.0" y="639.50" width="24.9" height="3.35" fill="#dcc0e0"/>
<rect x="541.0" y="642.80" width="24.9" height="6.35" fill="#aa5b98"/>
<rect x="541.0" y="649.10" width="24.9" height="10.35" fill="#dcc0e0"/>
<rect x="541.0" y="659.40" width="24.9" height="2.75" fill="#aa5b98"/>
<rect x="541.0" y="662.10" width="24.9" height="3.35" fill="#dcc0e0"/>
<rect x="541.0" y="665.40" width="24.9" height="3.15" fill="#aa5b98"/>
<rect x="541.0" y="668.50" width="24.9" height="40.05" fill="#dcc0e0"/>
<rect x="541.0" y="708.50" width="24.9" height="8.75" fill="#aa5b98"/>
<rect x="541.0" y="717.20" width="24.9" height="10.65" fill="#dcc0e0"/>
<rect x="541.0" y="727.80" width="24.9" height="2.05" fill="#aa5b98"/>
<rect x="566.7" y="371.50" width="25.2" height="11.75" fill="#dcc0e0"/>
<rect x="566.7" y="383.20" width="25.2" height="9.45" fill="#aa5b98"/>
<rect x="566.7" y="392.60" width="25.2" height="13.15" fill="#fee3c3"/>
<rect x="566.7" y="405.70" width="25.2" height="3.75" fill="#aa5b98"/>
<rect x="566.7" y="409.40" width="25.2" height="3.75" fill="#dcc0e0"/>
<rect x="566.7" y="413.10" width="25.2" height="6.15" fill="#fee3c3"/>
<rect x="566.7" y="419.20" width="25.2" height="3.25" fill="#aa5b98"/>
<rect x="566.7" y="422.40" width="25.2" height="8.75" fill="#dcc0e0"/>
<rect x="566.7" y="431.10" width="25.2" height="9.25" fill="#aa5b98"/>
<rect x="566.7" y="440.30" width="25.2" height="3.55" fill="#dcc0e0"/>
<rect x="566.7" y="443.80" width="25.2" height="6.55" fill="#fee3c3"/>
<rect x="566.7" y="450.30" width="25.2" height="3.05" fill="#dcc0e0"/>
<rect x="566.7" y="453.30" width="25.2" height="3.55" fill="#fee3c3"/>
<rect x="566.7" y="456.80" width="25.2" height="8.15" fill="#dcc0e0"/>
<rect x="566.7" y="464.90" width="25.2" height="2.35" fill="#aa5b98"/>
<rect x="566.7" y="467.20" width="25.2" height="3.45" fill="#dcc0e0"/>
<rect x="566.7" y="470.60" width="25.2" height="3.75" fill="#fee3c3"/>
<rect x="566.7" y="474.30" width="25.2" height="5.75" fill="#dcc0e0"/>
<rect x="566.7" y="480.00" width="25.2" height="7.45" fill="#fee3c3"/>
<rect x="566.7" y="487.40" width="25.2" height="6.55" fill="#aa5b98"/>
<rect x="566.7" y="493.90" width="25.2" height="6.55" fill="#dcc0e0"/>
<rect x="566.7" y="500.40" width="25.2" height="9.45" fill="#aa5b98"/>
<rect x="566.7" y="512.90" width="25.2" height="3.75" fill="#dcc0e0"/>
<rect x="566.7" y="516.60" width="25.2" height="26.95" fill="#fee3c3"/>
<rect x="566.7" y="543.50" width="25.2" height="3.35" fill="#aa5b98"/>
<rect x="566.7" y="546.80" width="25.2" height="3.05" fill="#dcc0e0"/>
<rect x="566.7" y="549.80" width="25.2" height="6.35" fill="#fee3c3"/>
<rect x="566.7" y="556.10" width="25.2" height="6.65" fill="#aa5b98"/>
<rect x="566.7" y="562.70" width="25.2" height="2.85" fill="#dcc0e0"/>
<rect x="566.7" y="565.50" width="25.2" height="24.55" fill="#aa5b98"/>
<rect x="566.7" y="590.00" width="25.2" height="10.25" fill="#aa5b98"/>
<rect x="566.7" y="600.20" width="25.2" height="3.55" fill="#dcc0e0"/>
<rect x="566.7" y="603.70" width="25.2" height="9.95" fill="#aa5b98"/>
<rect x="566.7" y="613.60" width="25.2" height="16.45" fill="#dcc0e0"/>
<rect x="566.7" y="630.00" width="25.2" height="2.95" fill="#aa5b98"/>
<rect x="566.7" y="632.90" width="25.2" height="3.15" fill="#dcc0e0"/>
<rect x="566.7" y="636.00" width="25.2" height="3.55" fill="#aa5b98"/>
<rect x="566.7" y="639.50" width="25.2" height="3.35" fill="#dcc0e0"/>
<rect x="566.7" y="642.80" width="25.2" height="6.35" fill="#aa5b98"/>
<rect x="566.7" y="649.10" width="25.2" height="10.35" fill="#dcc0e0"/>
<rect x="566.7" y="659.40" width="25.2" height="2.75" fill="#aa5b98"/>
<rect x="566.7" y="662.10" width="25.2" height="3.35" fill="#dcc0e0"/>
<rect x="566.7" y="665.40" width="25.2" height="3.15" fill="#aa5b98"/>
<rect x="566.7" y="668.50" width="25.2" height="40.05" fill="#dcc0e0"/>
<rect x="566.7" y="708.50" width="25.2" height="8.75" fill="#aa5b98"/>
<rect x="566.7" y="717.20" width="25.2" height="10.65" fill="#dcc0e0"/>
<rect x="566.7" y="727.80" width="25.2" height="2.05" fill="#aa5b98"/>
<rect x="592.7" y="371.50" width="23.8" height="11.75" fill="#dcc0e0"/>
<rect x="592.7" y="383.20" width="23.8" height="9.45" fill="#aa5b98"/>
<rect x="592.7" y="392.60" width="23.8" height="3.35" fill="#dcc0e0"/>
<rect x="592.7" y="395.90" width="23.8" height="2.65" fill="#aa5b98"/>
<rect x="592.7" y="398.50" width="23.8" height="3.95" fill="#dcc0e0"/>
<rect x="592.7" y="402.40" width="23.8" height="3.35" fill="#fee3c3"/>
<rect x="592.7" y="405.70" width="23.8" height="3.75" fill="#aa5b98"/>
<rect x="592.7" y="409.40" width="23.8" height="3.75" fill="#dcc0e0"/>
<rect x="592.7" y="413.10" width="23.8" height="6.15" fill="#fee3c3"/>
<rect x="592.7" y="419.20" width="23.8" height="3.25" fill="#aa5b98"/>
<rect x="592.7" y="422.40" width="23.8" height="8.75" fill="#dcc0e0"/>
<rect x="592.7" y="431.10" width="23.8" height="9.25" fill="#aa5b98"/>
<rect x="592.7" y="440.30" width="23.8" height="3.55" fill="#dcc0e0"/>
<rect x="592.7" y="443.80" width="23.8" height="6.55" fill="#aa5b98"/>
<rect x="592.7" y="450.30" width="23.8" height="3.05" fill="#dcc0e0"/>
<rect x="592.7" y="453.30" width="23.8" height="3.55" fill="#aa5b98"/>
<rect x="592.7" y="456.80" width="23.8" height="8.15" fill="#dcc0e0"/>
<rect x="592.7" y="464.90" width="23.8" height="2.35" fill="#aa5b98"/>
<rect x="592.7" y="467.20" width="23.8" height="7.15" fill="#dcc0e0"/>
<rect x="592.7" y="474.30" width="23.8" height="16.65" fill="#fee3c3"/>
<rect x="592.7" y="490.90" width="23.8" height="9.55" fill="#dcc0e0"/>
<rect x="592.7" y="500.40" width="23.8" height="9.45" fill="#aa5b98"/>
<rect x="592.7" y="509.80" width="23.8" height="3.15" fill="#fee3c3"/>
<rect x="592.7" y="512.90" width="23.8" height="3.75" fill="#dcc0e0"/>
<rect x="592.7" y="516.60" width="23.8" height="12.45" fill="#fee3c3"/>
<rect x="592.7" y="529.00" width="23.8" height="7.75" fill="#dcc0e0"/>
<rect x="592.7" y="536.70" width="23.8" height="3.65" fill="#fee3c3"/>
<rect x="592.7" y="540.30" width="23.8" height="3.25" fill="#dcc0e0"/>
<rect x="592.7" y="543.50" width="23.8" height="3.35" fill="#aa5b98"/>
<rect x="592.7" y="546.80" width="23.8" height="3.05" fill="#fee3c3"/>
<rect x="592.7" y="549.80" width="23.8" height="6.35" fill="#dcc0e0"/>
<rect x="592.7" y="556.10" width="23.8" height="6.65" fill="#aa5b98"/>
<rect x="592.7" y="562.70" width="23.8" height="2.85" fill="#dcc0e0"/>
<rect x="592.7" y="565.50" width="23.8" height="3.75" fill="#aa5b98"/>
<rect x="592.7" y="569.20" width="23.8" height="11.15" fill="#fee3c3"/>
<rect x="592.7" y="580.30" width="23.8" height="9.75" fill="#aa5b98"/>
<rect x="592.7" y="590.00" width="23.8" height="13.75" fill="#aa5b98"/>
<rect x="592.7" y="603.70" width="23.8" height="3.45" fill="#dcc0e0"/>
<rect x="592.7" y="607.10" width="23.8" height="6.55" fill="#aa5b98"/>
<rect x="592.7" y="613.60" width="23.8" height="3.55" fill="#dcc0e0"/>
<rect x="592.7" y="617.10" width="23.8" height="3.05" fill="#aa5b98"/>
<rect x="592.7" y="620.10" width="23.8" height="9.95" fill="#fee3c3"/>
<rect x="592.7" y="630.00" width="23.8" height="2.95" fill="#aa5b98"/>
<rect x="592.7" y="632.90" width="23.8" height="9.95" fill="#fee3c3"/>
<rect x="592.7" y="642.80" width="23.8" height="6.35" fill="#aa5b98"/>
<rect x="592.7" y="649.10" width="23.8" height="10.35" fill="#dcc0e0"/>
<rect x="592.7" y="659.40" width="23.8" height="6.05" fill="#fee3c3"/>
<rect x="592.7" y="665.40" width="23.8" height="5.55" fill="#dcc0e0"/>
<rect x="592.7" y="670.90" width="23.8" height="25.85" fill="#fee3c3"/>
<rect x="592.7" y="696.70" width="23.8" height="8.05" fill="#dcc0e0"/>
<rect x="592.7" y="704.70" width="23.8" height="3.85" fill="#aa5b98"/>
<rect x="592.7" y="708.50" width="23.8" height="3.15" fill="#dcc0e0"/>
<rect x="592.7" y="711.60" width="23.8" height="3.75" fill="#aa5b98"/>
<rect x="592.7" y="715.30" width="23.8" height="3.15" fill="#fee3c3"/>
<rect x="592.7" y="718.40" width="23.8" height="3.15" fill="#aa5b98"/>
<rect x="592.7" y="721.50" width="23.8" height="8.35" fill="#fee3c3"/>
</g>
<rect x="41.8" y="510.4" width="84.6" height="16.8" fill="#dcc0e0"/>
<rect x="41" y="677" width="86.4" height="17.2" rx="2" fill="#dcc0e0"/>
<defs><pattern id="h" width="2.2" height="2.2" patternUnits="userSpaceOnUse" patternTransform="rotate(45)"><rect width="2.2" height="2.2" fill="#f2f2f2"/><rect width="1.05" height="2.2" fill="#3a3a3a"/></pattern></defs>
<rect x="40" y="583.5" width="577" height="5.6" fill="url(#h)"/>
<line x1="40.0" y1="583.4" x2="617.0" y2="583.4" stroke="#333" stroke-width="0.7"/>
<line x1="40.0" y1="589.2" x2="617.0" y2="589.2" stroke="#333" stroke-width="0.7"/>
<line x1="127.6" y1="363.5" x2="127.6" y2="583.5" stroke="#111" stroke-width="1.5"/>
<line x1="127.6" y1="589.2" x2="127.6" y2="729.8" stroke="#111" stroke-width="1.5"/>
<line x1="154.0" y1="363.5" x2="154.0" y2="583.5" stroke="#111" stroke-width="1.1"/>
<line x1="154.0" y1="589.2" x2="154.0" y2="729.8" stroke="#111" stroke-width="1.1"/>
<line x1="179.5" y1="363.5" x2="179.5" y2="583.5" stroke="#111" stroke-width="0.9"/>
<line x1="179.5" y1="589.2" x2="179.5" y2="729.8" stroke="#111" stroke-width="0.9"/>
<line x1="206.5" y1="363.5" x2="206.5" y2="583.5" stroke="#111" stroke-width="1.1"/>
<line x1="206.5" y1="589.2" x2="206.5" y2="729.8" stroke="#111" stroke-width="1.1"/>
<line x1="231.5" y1="363.5" x2="231.5" y2="583.5" stroke="#111" stroke-width="1.5"/>
<line x1="231.5" y1="589.2" x2="231.5" y2="729.8" stroke="#111" stroke-width="1.5"/>
<line x1="257.7" y1="363.5" x2="257.7" y2="583.5" stroke="#111" stroke-width="1.1"/>
<line x1="257.7" y1="589.2" x2="257.7" y2="729.8" stroke="#111" stroke-width="1.1"/>
<line x1="281.5" y1="363.5" x2="281.5" y2="583.5" stroke="#111" stroke-width="0.9"/>
<line x1="281.5" y1="589.2" x2="281.5" y2="729.8" stroke="#111" stroke-width="0.9"/>
<line x1="305.5" y1="363.5" x2="305.5" y2="583.5" stroke="#111" stroke-width="0.9"/>
<line x1="305.5" y1="589.2" x2="305.5" y2="729.8" stroke="#111" stroke-width="0.9"/>
<line x1="332.5" y1="363.5" x2="332.5" y2="583.5" stroke="#111" stroke-width="0.9"/>
<line x1="332.5" y1="589.2" x2="332.5" y2="729.8" stroke="#111" stroke-width="0.9"/>
<line x1="359.7" y1="363.5" x2="359.7" y2="583.5" stroke="#111" stroke-width="0.9"/>
<line x1="359.7" y1="589.2" x2="359.7" y2="729.8" stroke="#111" stroke-width="0.9"/>
<line x1="382.7" y1="363.5" x2="382.7" y2="583.5" stroke="#111" stroke-width="1.7"/>
<line x1="382.7" y1="589.2" x2="382.7" y2="729.8" stroke="#111" stroke-width="1.7"/>
<line x1="409.2" y1="363.5" x2="409.2" y2="583.5" stroke="#111" stroke-width="0.9"/>
<line x1="409.2" y1="589.2" x2="409.2" y2="729.8" stroke="#111" stroke-width="0.9"/>
<line x1="434.6" y1="363.5" x2="434.6" y2="583.5" stroke="#111" stroke-width="0.9"/>
<line x1="434.6" y1="589.2" x2="434.6" y2="729.8" stroke="#111" stroke-width="0.9"/>
<line x1="461.0" y1="363.5" x2="461.0" y2="583.5" stroke="#111" stroke-width="0.9"/>
<line x1="461.0" y1="589.2" x2="461.0" y2="729.8" stroke="#111" stroke-width="0.9"/>
<line x1="488.2" y1="363.5" x2="488.2" y2="583.5" stroke="#111" stroke-width="1.8"/>
<line x1="488.2" y1="589.2" x2="488.2" y2="729.8" stroke="#111" stroke-width="1.8"/>
<line x1="515.0" y1="363.5" x2="515.0" y2="583.5" stroke="#111" stroke-width="2.4"/>
<line x1="515.0" y1="589.2" x2="515.0" y2="729.8" stroke="#111" stroke-width="2.4"/>
<line x1="540.4" y1="363.5" x2="540.4" y2="583.5" stroke="#111" stroke-width="1.2"/>
<line x1="540.4" y1="589.2" x2="540.4" y2="729.8" stroke="#111" stroke-width="1.2"/>
<line x1="566.1" y1="363.5" x2="566.1" y2="583.5" stroke="#111" stroke-width="0.9"/>
<line x1="566.1" y1="589.2" x2="566.1" y2="729.8" stroke="#111" stroke-width="0.9"/>
<line x1="592.1" y1="363.5" x2="592.1" y2="583.5" stroke="#111" stroke-width="0.9"/>
<line x1="592.1" y1="589.2" x2="592.1" y2="729.8" stroke="#111" stroke-width="0.9"/>
<line x1="616.7" y1="363.5" x2="616.7" y2="729.8" stroke="#111" stroke-width="1.2"/>
<line x1="40.0" y1="363.0" x2="40.0" y2="729.8" stroke="#111" stroke-width="1.1"/>
<line x1="39.3" y1="363.6" x2="617.4" y2="363.6" stroke="#111" stroke-width="1.3"/>
<line x1="39.3" y1="370.8" x2="617.4" y2="370.8" stroke="#111" stroke-width="1.8"/>
<line x1="39.3" y1="729.8" x2="617.4" y2="729.8" stroke="#111" stroke-width="1.5"/>
<polyline points="26.6,482.4 449.6,482.4 449.6,568.5 26.6,568.5 26.6,482.4" fill="none" stroke="#111" stroke-width="1.35"/>
<rect x="480.2" y="480.4" width="42.4" height="87.8" fill="none" stroke="#111" stroke-width="1.3" stroke-dasharray="5,2.5"/>
<rect x="509.6" y="670.9" width="111.2" height="29.3" fill="none" stroke="#111" stroke-width="1.5"/>
<text x="141.3" y="369.2" font-size="5" font-weight="bold" text-anchor="middle" textLength="6.5" lengthAdjust="spacingAndGlyphs" >A1</text>
<text x="167.2" y="369.2" font-size="5" font-weight="bold" text-anchor="middle" textLength="6.5" lengthAdjust="spacingAndGlyphs" >A2</text>
<text x="193.5" y="369.2" font-size="5" font-weight="bold" text-anchor="middle" textLength="6.5" lengthAdjust="spacingAndGlyphs" >A3</text>
<text x="219.5" y="369.2" font-size="5" font-weight="bold" text-anchor="middle" textLength="6.5" lengthAdjust="spacingAndGlyphs" >A4</text>
<text x="245.1" y="369.2" font-size="5" font-weight="bold" text-anchor="middle" textLength="6.5" lengthAdjust="spacingAndGlyphs" >B2</text>
<text x="270.1" y="369.2" font-size="5" font-weight="bold" text-anchor="middle" textLength="6.5" lengthAdjust="spacingAndGlyphs" >B1</text>
<text x="294.0" y="369.2" font-size="5" font-weight="bold" text-anchor="middle" textLength="6.5" lengthAdjust="spacingAndGlyphs" >B3</text>
<text x="319.5" y="369.2" font-size="5" font-weight="bold" text-anchor="middle" textLength="6.5" lengthAdjust="spacingAndGlyphs" >B4</text>
<text x="346.6" y="369.2" font-size="5" font-weight="bold" text-anchor="middle" textLength="6.5" lengthAdjust="spacingAndGlyphs" >B5</text>
<text x="371.7" y="369.2" font-size="5" font-weight="bold" text-anchor="middle" textLength="6.5" lengthAdjust="spacingAndGlyphs" >B6</text>
<text x="396.4" y="369.2" font-size="5" font-weight="bold" text-anchor="middle" textLength="6.5" lengthAdjust="spacingAndGlyphs" >C1</text>
<text x="422.4" y="369.2" font-size="5" font-weight="bold" text-anchor="middle" textLength="6.5" lengthAdjust="spacingAndGlyphs" >C2</text>
<text x="448.3" y="369.2" font-size="5" font-weight="bold" text-anchor="middle" textLength="6.5" lengthAdjust="spacingAndGlyphs" >C3</text>
<text x="475.1" y="369.2" font-size="5" font-weight="bold" text-anchor="middle" textLength="6.5" lengthAdjust="spacingAndGlyphs" >C4</text>
<text x="502.1" y="369.2" font-size="5" font-weight="bold" text-anchor="middle" textLength="6.5" lengthAdjust="spacingAndGlyphs" >E1</text>
<text x="528.2" y="369.2" font-size="5" font-weight="bold" text-anchor="middle" textLength="6.5" lengthAdjust="spacingAndGlyphs" >D3</text>
<text x="553.8" y="369.2" font-size="5" font-weight="bold" text-anchor="middle" textLength="6.5" lengthAdjust="spacingAndGlyphs" >D4</text>
<text x="579.6" y="369.2" font-size="5" font-weight="bold" text-anchor="middle" textLength="6.5" lengthAdjust="spacingAndGlyphs" >D5</text>
<text x="604.9" y="369.2" font-size="5" font-weight="bold" text-anchor="middle" textLength="6.5" lengthAdjust="spacingAndGlyphs" >D6</text>
<text x="83.6" y="368.9" font-size="5" font-weight="bold" text-anchor="middle" textLength="18" lengthAdjust="spacingAndGlyphs" >Position</text>
<text x="141.1" y="379.0" font-size="5.4" font-weight="bold" text-anchor="middle" textLength="20.5" lengthAdjust="spacingAndGlyphs" >157/161</text>
<text x="167.1" y="379.0" font-size="5.4" font-weight="bold" text-anchor="middle" textLength="20.5" lengthAdjust="spacingAndGlyphs" >161/161</text>
<text x="193.3" y="379.0" font-size="5.4" font-weight="bold" text-anchor="middle" textLength="20.5" lengthAdjust="spacingAndGlyphs" >161/161</text>
<text x="219.3" y="379.0" font-size="5.4" font-weight="bold" text-anchor="middle" textLength="20.5" lengthAdjust="spacingAndGlyphs" >157/161</text>
<text x="244.9" y="379.0" font-size="5.4" font-weight="bold" text-anchor="middle" textLength="20.5" lengthAdjust="spacingAndGlyphs" >161/161</text>
<text x="269.9" y="379.0" font-size="5.4" font-weight="bold" text-anchor="middle" textLength="20.30000000000001" lengthAdjust="spacingAndGlyphs" >161/161</text>
<text x="293.8" y="379.0" font-size="5.4" font-weight="bold" text-anchor="middle" textLength="20.5" lengthAdjust="spacingAndGlyphs" >161/161</text>
<text x="319.3" y="379.0" font-size="5.4" font-weight="bold" text-anchor="middle" textLength="20.5" lengthAdjust="spacingAndGlyphs" >161/161</text>
<text x="346.4" y="379.0" font-size="5.4" font-weight="bold" text-anchor="middle" textLength="20.5" lengthAdjust="spacingAndGlyphs" >161/161</text>
<text x="371.5" y="379.0" font-size="5.4" font-weight="bold" text-anchor="middle" textLength="19.5" lengthAdjust="spacingAndGlyphs" >161/161</text>
<text x="396.2" y="379.0" font-size="5.4" font-weight="bold" text-anchor="middle" textLength="20.5" lengthAdjust="spacingAndGlyphs" >161/161</text>
<text x="422.2" y="379.0" font-size="5.4" font-weight="bold" text-anchor="middle" textLength="20.5" lengthAdjust="spacingAndGlyphs" >161/161</text>
<text x="448.1" y="379.0" font-size="5.4" font-weight="bold" text-anchor="middle" textLength="20.5" lengthAdjust="spacingAndGlyphs" >157/161</text>
<text x="474.9" y="379.0" font-size="5.4" font-weight="bold" text-anchor="middle" textLength="20.5" lengthAdjust="spacingAndGlyphs" >157/163</text>
<text x="499.4" y="379.0" font-size="5.4" font-weight="bold" text-anchor="middle" textLength="20.5" lengthAdjust="spacingAndGlyphs" >161/161</text>
<text x="141.1" y="429.3" font-size="5.4" font-weight="bold" text-anchor="middle" textLength="20.5" lengthAdjust="spacingAndGlyphs" >265/265</text>
<text x="167.1" y="429.3" font-size="5.4" font-weight="bold" text-anchor="middle" textLength="20.5" lengthAdjust="spacingAndGlyphs" >265/265</text>
<text x="193.3" y="429.3" font-size="5.4" font-weight="bold" text-anchor="middle" textLength="20.5" lengthAdjust="spacingAndGlyphs" >265/265</text>
<text x="219.3" y="429.3" font-size="5.4" font-weight="bold" text-anchor="middle" textLength="20.5" lengthAdjust="spacingAndGlyphs" >265/267</text>
<text x="244.9" y="429.3" font-size="5.4" font-weight="bold" text-anchor="middle" textLength="20.5" lengthAdjust="spacingAndGlyphs" >265/265</text>
<text x="269.9" y="429.3" font-size="5.4" font-weight="bold" text-anchor="middle" textLength="20.30000000000001" lengthAdjust="spacingAndGlyphs" >265/265</text>
<text x="293.8" y="429.3" font-size="5.4" font-weight="bold" text-anchor="middle" textLength="20.5" lengthAdjust="spacingAndGlyphs" >265/265</text>
<text x="319.3" y="429.3" font-size="5.4" font-weight="bold" text-anchor="middle" textLength="20.5" lengthAdjust="spacingAndGlyphs" >265/265</text>
<text x="346.4" y="429.3" font-size="5.4" font-weight="bold" text-anchor="middle" textLength="20.5" lengthAdjust="spacingAndGlyphs" >265/265</text>
<text x="371.5" y="429.3" font-size="5.4" font-weight="bold" text-anchor="middle" textLength="19.5" lengthAdjust="spacingAndGlyphs" >265/265</text>
<text x="396.2" y="429.3" font-size="5.4" font-weight="bold" text-anchor="middle" textLength="20.5" lengthAdjust="spacingAndGlyphs" >265/265</text>
<text x="422.2" y="429.3" font-size="5.4" font-weight="bold" text-anchor="middle" textLength="20.5" lengthAdjust="spacingAndGlyphs" >265/265</text>
<text x="448.1" y="429.3" font-size="5.4" font-weight="bold" text-anchor="middle" textLength="20.5" lengthAdjust="spacingAndGlyphs" >265/267</text>
<text x="474.9" y="429.3" font-size="5.4" font-weight="bold" text-anchor="middle" textLength="20.5" lengthAdjust="spacingAndGlyphs" >265/265</text>
<text x="499.4" y="429.3" font-size="5.4" font-weight="bold" text-anchor="middle" textLength="20.5" lengthAdjust="spacingAndGlyphs" >265/269</text>
<text x="141.1" y="463.0" font-size="5.4" font-weight="bold" text-anchor="middle" textLength="20.5" lengthAdjust="spacingAndGlyphs" >219/229</text>
<text x="167.1" y="463.0" font-size="5.4" font-weight="bold" text-anchor="middle" textLength="20.5" lengthAdjust="spacingAndGlyphs" >219/219</text>
<text x="193.3" y="463.0" font-size="5.4" font-weight="bold" text-anchor="middle" textLength="20.5" lengthAdjust="spacingAndGlyphs" >219/219</text>
<text x="219.3" y="463.0" font-size="5.4" font-weight="bold" text-anchor="middle" textLength="20.5" lengthAdjust="spacingAndGlyphs" >229/235</text>
<text x="244.9" y="463.0" font-size="5.4" font-weight="bold" text-anchor="middle" textLength="20.5" lengthAdjust="spacingAndGlyphs" >219/235</text>
<text x="269.9" y="463.0" font-size="5.4" font-weight="bold" text-anchor="middle" textLength="20.30000000000001" lengthAdjust="spacingAndGlyphs" >219/219</text>
<text x="293.8" y="463.0" font-size="5.4" font-weight="bold" text-anchor="middle" textLength="20.5" lengthAdjust="spacingAndGlyphs" >219/235</text>
<text x="319.3" y="463.0" font-size="5.4" font-weight="bold" text-anchor="middle" textLength="20.5" lengthAdjust="spacingAndGlyphs" >219/219</text>
<text x="346.4" y="463.0" font-size="5.4" font-weight="bold" text-anchor="middle" textLength="20.5" lengthAdjust="spacingAndGlyphs" >219/219</text>
<text x="371.5" y="463.0" font-size="5.4" font-weight="bold" text-anchor="middle" textLength="19.5" lengthAdjust="spacingAndGlyphs" >219/235</text>
<text x="396.2" y="463.0" font-size="5.4" font-weight="bold" text-anchor="middle" textLength="20.5" lengthAdjust="spacingAndGlyphs" >219/219</text>
<text x="422.2" y="463.0" font-size="5.4" font-weight="bold" text-anchor="middle" textLength="20.5" lengthAdjust="spacingAndGlyphs" >219/219</text>
<text x="448.1" y="463.0" font-size="5.4" font-weight="bold" text-anchor="middle" textLength="20.5" lengthAdjust="spacingAndGlyphs" >230/237</text>
<text x="474.9" y="463.0" font-size="5.4" font-weight="bold" text-anchor="middle" textLength="20.5" lengthAdjust="spacingAndGlyphs" >219/230</text>
<text x="499.4" y="463.0" font-size="5.4" font-weight="bold" text-anchor="middle" textLength="20.5" lengthAdjust="spacingAndGlyphs" >219/233</text>
<text x="141.1" y="535.6" font-size="5.4" font-weight="bold" text-anchor="middle" textLength="20.5" lengthAdjust="spacingAndGlyphs" >258/271</text>
<text x="167.1" y="535.6" font-size="5.4" font-weight="bold" text-anchor="middle" textLength="20.5" lengthAdjust="spacingAndGlyphs" >258/258</text>
<text x="193.3" y="535.6" font-size="5.4" font-weight="bold" text-anchor="middle" textLength="20.5" lengthAdjust="spacingAndGlyphs" >258/258</text>
<text x="219.3" y="535.6" font-size="5.4" font-weight="bold" text-anchor="middle" textLength="20.5" lengthAdjust="spacingAndGlyphs" >271/279</text>
<text x="244.9" y="535.6" font-size="5.4" font-weight="bold" text-anchor="middle" textLength="20.5" lengthAdjust="spacingAndGlyphs" >258/273</text>
<text x="269.9" y="535.6" font-size="5.4" font-weight="bold" text-anchor="middle" textLength="20.30000000000001" lengthAdjust="spacingAndGlyphs" >268/268</text>
<text x="293.8" y="535.6" font-size="5.4" font-weight="bold" text-anchor="middle" textLength="20.5" lengthAdjust="spacingAndGlyphs" >268/278</text>
<text x="319.3" y="535.6" font-size="5.4" font-weight="bold" text-anchor="middle" textLength="20.5" lengthAdjust="spacingAndGlyphs" >258/258</text>
<text x="346.4" y="535.6" font-size="5.4" font-weight="bold" text-anchor="middle" textLength="20.5" lengthAdjust="spacingAndGlyphs" >258/258</text>
<text x="371.5" y="535.6" font-size="5.4" font-weight="bold" text-anchor="middle" textLength="19.5" lengthAdjust="spacingAndGlyphs" >268/279</text>
<text x="396.2" y="535.6" font-size="5.4" font-weight="bold" text-anchor="middle" textLength="20.5" lengthAdjust="spacingAndGlyphs" >258/258</text>
<text x="422.2" y="535.6" font-size="5.4" font-weight="bold" text-anchor="middle" textLength="20.5" lengthAdjust="spacingAndGlyphs" >258/258</text>
<text x="448.1" y="535.6" font-size="5.4" font-weight="bold" text-anchor="middle" textLength="20.5" lengthAdjust="spacingAndGlyphs" >258/271</text>
<text x="474.9" y="535.6" font-size="5.4" font-weight="bold" text-anchor="middle" textLength="20.5" lengthAdjust="spacingAndGlyphs" >271/271</text>
<text x="499.4" y="535.6" font-size="5.4" font-weight="bold" text-anchor="middle" textLength="20.5" lengthAdjust="spacingAndGlyphs" >258/271</text>
<text x="528.0" y="535.6" font-size="5.4" font-weight="bold" text-anchor="middle" textLength="20.5" lengthAdjust="spacingAndGlyphs" >227/231</text>
<text x="553.5" y="535.6" font-size="5.4" font-weight="bold" text-anchor="middle" textLength="20.5" lengthAdjust="spacingAndGlyphs" >227/227</text>
<text x="579.4" y="535.6" font-size="5.4" font-weight="bold" text-anchor="middle" textLength="20.5" lengthAdjust="spacingAndGlyphs" >227/231</text>
<text x="604.7" y="535.6" font-size="5.4" font-weight="bold" text-anchor="middle" textLength="20.5" lengthAdjust="spacingAndGlyphs" >227/227</text>
<text x="167.1" y="595.3" font-size="5.4" font-weight="bold" text-anchor="middle" textLength="20.5" lengthAdjust="spacingAndGlyphs" >216/235</text>
<text x="193.3" y="595.3" font-size="5.4" font-weight="bold" text-anchor="middle" textLength="20.5" lengthAdjust="spacingAndGlyphs" >215/231</text>
<text x="319.3" y="595.3" font-size="5.4" font-weight="bold" text-anchor="middle" textLength="20.5" lengthAdjust="spacingAndGlyphs" >227/227</text>
<text x="346.4" y="595.3" font-size="5.4" font-weight="bold" text-anchor="middle" textLength="20.5" lengthAdjust="spacingAndGlyphs" >227/227</text>
<text x="396.2" y="595.3" font-size="5.4" font-weight="bold" text-anchor="middle" textLength="20.5" lengthAdjust="spacingAndGlyphs" >215/233</text>
<text x="422.2" y="595.3" font-size="5.4" font-weight="bold" text-anchor="middle" textLength="20.5" lengthAdjust="spacingAndGlyphs" >215/233</text>
<text x="448.1" y="595.3" font-size="5.4" font-weight="bold" text-anchor="middle" textLength="20.5" lengthAdjust="spacingAndGlyphs" >215/215</text>
<text x="474.9" y="595.3" font-size="5.4" font-weight="bold" text-anchor="middle" textLength="20.5" lengthAdjust="spacingAndGlyphs" >215/233</text>
<text x="528.0" y="595.3" font-size="5.4" font-weight="bold" text-anchor="middle" textLength="20.5" lengthAdjust="spacingAndGlyphs" >215/231</text>
<text x="553.5" y="595.3" font-size="5.4" font-weight="bold" text-anchor="middle" textLength="20.5" lengthAdjust="spacingAndGlyphs" >227/227</text>
<text x="579.4" y="595.3" font-size="5.4" font-weight="bold" text-anchor="middle" textLength="20.5" lengthAdjust="spacingAndGlyphs" >227/227</text>
<text x="167.1" y="679.3" font-size="5.4" font-weight="bold" text-anchor="middle" textLength="20.5" lengthAdjust="spacingAndGlyphs" >159/159</text>
<text x="193.3" y="679.3" font-size="5.4" font-weight="bold" text-anchor="middle" textLength="20.5" lengthAdjust="spacingAndGlyphs" >159/159</text>
<text x="293.8" y="679.3" font-size="5.4" font-weight="bold" text-anchor="middle" textLength="20.5" lengthAdjust="spacingAndGlyphs" >165/179</text>
<text x="319.3" y="679.3" font-size="5.4" font-weight="bold" text-anchor="middle" textLength="20.5" lengthAdjust="spacingAndGlyphs" >159/179</text>
<text x="346.4" y="679.3" font-size="5.4" font-weight="bold" text-anchor="middle" textLength="20.5" lengthAdjust="spacingAndGlyphs" >159/179</text>
<text x="371.5" y="679.3" font-size="5.4" font-weight="bold" text-anchor="middle" textLength="19.5" lengthAdjust="spacingAndGlyphs" >165/179</text>
<text x="528.0" y="679.3" font-size="5.4" font-weight="bold" text-anchor="middle" textLength="20.5" lengthAdjust="spacingAndGlyphs" >159/173</text>
<text x="553.5" y="679.3" font-size="5.4" font-weight="bold" text-anchor="middle" textLength="20.5" lengthAdjust="spacingAndGlyphs" >159/159</text>
<text x="579.4" y="679.3" font-size="5.4" font-weight="bold" text-anchor="middle" textLength="20.5" lengthAdjust="spacingAndGlyphs" >159/159</text>
<text x="604.7" y="679.3" font-size="5.4" font-weight="bold" text-anchor="middle" textLength="20.5" lengthAdjust="spacingAndGlyphs" >159/173</text>
<text x="167.1" y="686.8" font-size="5.4" font-weight="bold" text-anchor="middle" textLength="20.5" lengthAdjust="spacingAndGlyphs" >271/265</text>
<text x="193.3" y="686.8" font-size="5.4" font-weight="bold" text-anchor="middle" textLength="20.5" lengthAdjust="spacingAndGlyphs" >271/265</text>
<text x="293.8" y="686.8" font-size="5.4" font-weight="bold" text-anchor="middle" textLength="20.5" lengthAdjust="spacingAndGlyphs" >271/271</text>
<text x="319.3" y="686.8" font-size="5.4" font-weight="bold" text-anchor="middle" textLength="20.5" lengthAdjust="spacingAndGlyphs" >271/271</text>
<text x="346.4" y="686.8" font-size="5.4" font-weight="bold" text-anchor="middle" textLength="20.5" lengthAdjust="spacingAndGlyphs" >271/271</text>
<text x="371.5" y="686.8" font-size="5.4" font-weight="bold" text-anchor="middle" textLength="19.5" lengthAdjust="spacingAndGlyphs" >271/271</text>
<text x="553.5" y="686.8" font-size="5.4" font-weight="bold" text-anchor="middle" textLength="20.5" lengthAdjust="spacingAndGlyphs" >262/262</text>
<text x="579.4" y="686.8" font-size="5.4" font-weight="bold" text-anchor="middle" textLength="20.5" lengthAdjust="spacingAndGlyphs" >262/262</text>
<text x="167.1" y="694.3" font-size="5.4" font-weight="bold" text-anchor="middle" textLength="20.5" lengthAdjust="spacingAndGlyphs" >201/201</text>
<text x="193.3" y="694.3" font-size="5.4" font-weight="bold" text-anchor="middle" textLength="20.5" lengthAdjust="spacingAndGlyphs" >201/203</text>
<text x="293.8" y="694.3" font-size="5.4" font-weight="bold" text-anchor="middle" textLength="20.5" lengthAdjust="spacingAndGlyphs" >203/203</text>
<text x="319.3" y="694.3" font-size="5.4" font-weight="bold" text-anchor="middle" textLength="20.5" lengthAdjust="spacingAndGlyphs" >203/203</text>
<text x="346.4" y="694.3" font-size="5.4" font-weight="bold" text-anchor="middle" textLength="20.5" lengthAdjust="spacingAndGlyphs" >203/203</text>
<text x="371.5" y="694.3" font-size="5.4" font-weight="bold" text-anchor="middle" textLength="19.5" lengthAdjust="spacingAndGlyphs" >203/203</text>
<text x="499.4" y="694.3" font-size="5.4" font-weight="bold" text-anchor="middle" textLength="20.5" lengthAdjust="spacingAndGlyphs" >201/203</text>
<text x="528.0" y="694.3" font-size="5.4" font-weight="bold" text-anchor="middle" textLength="20.5" lengthAdjust="spacingAndGlyphs" >203/205</text>
<text x="553.5" y="694.3" font-size="5.4" font-weight="bold" text-anchor="middle" textLength="20.5" lengthAdjust="spacingAndGlyphs" >203/203</text>
<text x="579.4" y="694.3" font-size="5.4" font-weight="bold" text-anchor="middle" textLength="20.5" lengthAdjust="spacingAndGlyphs" >203/203</text>
<text x="604.7" y="694.3" font-size="5.4" font-weight="bold" text-anchor="middle" textLength="20.5" lengthAdjust="spacingAndGlyphs" >203/205</text>
<text x="75.0" y="379.0" font-size="5.2" font-weight="bold" text-anchor="start" textLength="21" lengthAdjust="spacingAndGlyphs" >D12S313</text>
<text x="102.0" y="379.0" font-size="5.2" font-weight="bold" text-anchor="start" textLength="22.400000000000006" lengthAdjust="spacingAndGlyphs" >66,78 Mb</text>
<text x="73.0" y="429.3" font-size="5.2" font-weight="bold" text-anchor="start" textLength="25" lengthAdjust="spacingAndGlyphs" >D12S1722</text>
<text x="102.0" y="429.3" font-size="5.2" font-weight="bold" text-anchor="start" textLength="22.400000000000006" lengthAdjust="spacingAndGlyphs" >69,39 Mb</text>
<text x="75.4" y="463.0" font-size="5.2" font-weight="bold" text-anchor="start" textLength="18.599999999999994" lengthAdjust="spacingAndGlyphs" >D12S88</text>
<text x="102.0" y="463.0" font-size="5.2" font-weight="bold" text-anchor="start" textLength="22.400000000000006" lengthAdjust="spacingAndGlyphs" >70,31 Mb</text>
<text x="72.2" y="535.6" font-size="5.2" font-weight="bold" text-anchor="start" textLength="21.099999999999994" lengthAdjust="spacingAndGlyphs" >D12S326</text>
<text x="102.8" y="535.6" font-size="5.2" font-weight="bold" text-anchor="start" textLength="21.60000000000001" lengthAdjust="spacingAndGlyphs" >76,47 Mb</text>
<text x="77.9" y="594.2" font-size="5.2" font-weight="bold" text-anchor="start" textLength="21.099999999999994" lengthAdjust="spacingAndGlyphs" >D16S415</text>
<text x="104.0" y="594.2" font-size="5.2" font-weight="bold" text-anchor="start" textLength="20.900000000000006" lengthAdjust="spacingAndGlyphs" >52,22Mb</text>
<text x="77.9" y="676.0" font-size="5.2" font-weight="bold" text-anchor="start" textLength="22.599999999999994" lengthAdjust="spacingAndGlyphs" >D16S3140</text>
<text x="102.5" y="676.0" font-size="5.2" font-weight="bold" text-anchor="start" textLength="21.900000000000006" lengthAdjust="spacingAndGlyphs" >54.87 Mb</text>
<text x="75.9" y="681.5" font-size="5.2" font-weight="bold" text-anchor="start" textLength="22.599999999999994" lengthAdjust="spacingAndGlyphs" >D16S408</text>
<text x="102.5" y="681.5" font-size="5.2" font-weight="bold" text-anchor="start" textLength="23.200000000000003" lengthAdjust="spacingAndGlyphs" >54.88Mb</text>
<text x="103.3" y="695.5" font-size="5.2" font-weight="bold" text-anchor="start" textLength="22.4" lengthAdjust="spacingAndGlyphs" >55.11Mb</text>
<text x="94.5" y="479.0" font-size="5.2" font-weight="bold" text-anchor="start" textLength="21.7" lengthAdjust="spacingAndGlyphs" >71,22Mb</text>
<line x1="94.5" y1="480.1" x2="116.2" y2="480.1" stroke="#111" stroke-width="0.5"/>
<line x1="119.4" y1="477.3" x2="126.4" y2="477.3" stroke="#111" stroke-width="0.9"/>
<polygon points="122.2,474.5 126.8,477.3 122.2,480.1" fill="#111"/>
<text x="94.5" y="576.2" font-size="5.2" font-weight="bold" text-anchor="start" textLength="20.7" lengthAdjust="spacingAndGlyphs" >79,92 Mb</text>
<line x1="94.5" y1="577.3" x2="115.2" y2="577.3" stroke="#111" stroke-width="0.5"/>
<line x1="119.4" y1="574.4" x2="126.4" y2="574.4" stroke="#111" stroke-width="0.9"/>
<polygon points="122.2,571.6 126.8,574.4 122.2,577.2" fill="#111"/>
<text x="84.6" y="496.3" font-size="9.6" font-weight="bold" text-anchor="middle" textLength="79.6" lengthAdjust="spacingAndGlyphs" >région candidate</text>
<text x="83.9" y="509.0" font-size="9.6" font-weight="bold" text-anchor="middle" textLength="19.5" lengthAdjust="spacingAndGlyphs" >8Mb</text>
<text x="46.5" y="523.0" font-size="11" font-weight="normal" text-anchor="start" textLength="69.2" lengthAdjust="spacingAndGlyphs" >BBS10 75.24Mb</text>
<polygon points="119.6,515.8 125.8,519.2 119.6,522.6" fill="#111"/>
<line x1="117.0" y1="519.2" x2="120.0" y2="519.2" stroke="#111" stroke-width="0.9"/>
<text x="45.5" y="690.2" font-size="9.7" font-weight="normal" text-anchor="start" textLength="62.7" lengthAdjust="spacingAndGlyphs" >BBS2 55.07Mb</text>
<line x1="113.2" y1="686.6" x2="126.2" y2="686.6" stroke="#111" stroke-width="0.9"/>
<polygon points="122.0,683.8 126.6,686.6 122.0,689.4" fill="#111"/>
<text x="50.5" y="705.6" font-size="10.3" font-weight="normal" text-anchor="start" textLength="65.2" lengthAdjust="spacingAndGlyphs" >microsatellite</text>
<text x="50.5" y="716.6" font-size="10.3" font-weight="normal" text-anchor="start" textLength="59" lengthAdjust="spacingAndGlyphs" >intragénique</text>
<text transform="translate(26.2,415.4) rotate(-90)" font-size="10.3" font-weight="bold" text-anchor="middle" textLength="56.3" lengthAdjust="spacingAndGlyphs">Chromosome</text>
<text transform="translate(37.7,415.6) rotate(-90)" font-size="10.3" font-weight="bold" text-anchor="middle" textLength="10.5" lengthAdjust="spacingAndGlyphs">12</text>
<text transform="translate(27.8,637.5) rotate(-90)" font-size="10.3" font-weight="bold" text-anchor="middle" textLength="57" lengthAdjust="spacingAndGlyphs">Chromosome</text>
<text transform="translate(39.2,636) rotate(-90)" font-size="10.3" font-weight="bold" text-anchor="middle" textLength="10.5" lengthAdjust="spacingAndGlyphs">16</text>
</svg>
</body></html>
